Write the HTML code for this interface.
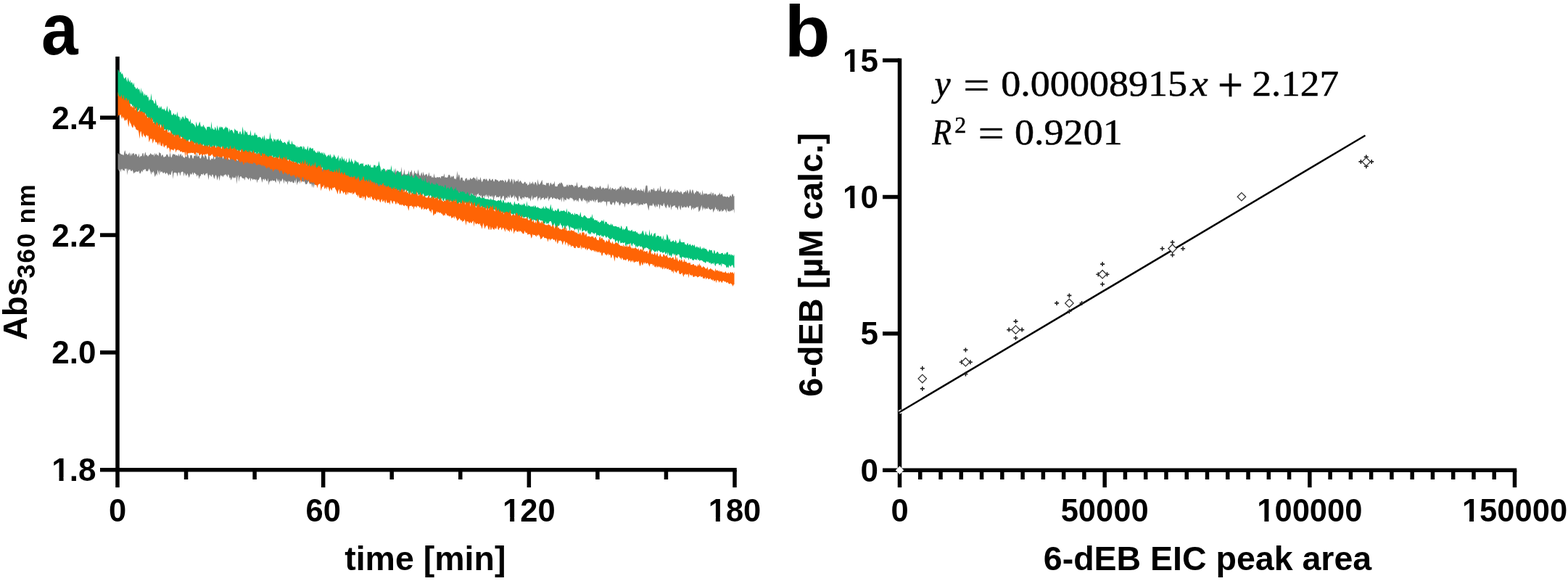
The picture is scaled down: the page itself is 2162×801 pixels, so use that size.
<!DOCTYPE html>
<html><head><meta charset="utf-8"><title>Figure</title>
<style>html,body{margin:0;padding:0;background:#fff;overflow:hidden}svg{display:block}</style>
</head><body>
<svg width="2162" height="801" viewBox="0 0 2162 801"><rect width="100%" height="100%" fill="#fff"/><g stroke-linecap="butt"><line x1="162.00" y1="78.00" x2="162.00" y2="672.00" stroke="#000" stroke-width="5.5"/><line x1="138.00" y1="647.80" x2="1015.75" y2="647.80" stroke="#000" stroke-width="5.5"/><line x1="138.00" y1="162.20" x2="162.00" y2="162.20" stroke="#000" stroke-width="5.5"/><line x1="138.00" y1="324.07" x2="162.00" y2="324.07" stroke="#000" stroke-width="5.5"/><line x1="138.00" y1="485.93" x2="162.00" y2="485.93" stroke="#000" stroke-width="5.5"/><line x1="445.67" y1="647.80" x2="445.67" y2="672.00" stroke="#000" stroke-width="5.5"/><line x1="729.33" y1="647.80" x2="729.33" y2="672.00" stroke="#000" stroke-width="5.5"/><line x1="1013.00" y1="647.80" x2="1013.00" y2="672.00" stroke="#000" stroke-width="5.5"/><line x1="256.56" y1="647.80" x2="256.56" y2="661.00" stroke="#000" stroke-width="5.5"/><line x1="351.11" y1="647.80" x2="351.11" y2="661.00" stroke="#000" stroke-width="5.5"/><line x1="540.22" y1="647.80" x2="540.22" y2="661.00" stroke="#000" stroke-width="5.5"/><line x1="634.78" y1="647.80" x2="634.78" y2="661.00" stroke="#000" stroke-width="5.5"/><line x1="823.89" y1="647.80" x2="823.89" y2="661.00" stroke="#000" stroke-width="5.5"/><line x1="918.44" y1="647.80" x2="918.44" y2="661.00" stroke="#000" stroke-width="5.5"/><line x1="1240.50" y1="80.45" x2="1240.50" y2="672.00" stroke="#000" stroke-width="5.5"/><line x1="1217.00" y1="648.20" x2="2091.25" y2="648.20" stroke="#000" stroke-width="5.5"/><line x1="1217.00" y1="83.20" x2="1240.50" y2="83.20" stroke="#000" stroke-width="5.5"/><line x1="1217.00" y1="271.53" x2="1240.50" y2="271.53" stroke="#000" stroke-width="5.5"/><line x1="1217.00" y1="459.87" x2="1240.50" y2="459.87" stroke="#000" stroke-width="5.5"/><line x1="1268.77" y1="648.20" x2="1268.77" y2="661.00" stroke="#000" stroke-width="5.5"/><line x1="1297.03" y1="648.20" x2="1297.03" y2="661.00" stroke="#000" stroke-width="5.5"/><line x1="1325.30" y1="648.20" x2="1325.30" y2="661.00" stroke="#000" stroke-width="5.5"/><line x1="1353.57" y1="648.20" x2="1353.57" y2="661.00" stroke="#000" stroke-width="5.5"/><line x1="1381.83" y1="648.20" x2="1381.83" y2="661.00" stroke="#000" stroke-width="5.5"/><line x1="1410.10" y1="648.20" x2="1410.10" y2="661.00" stroke="#000" stroke-width="5.5"/><line x1="1438.37" y1="648.20" x2="1438.37" y2="661.00" stroke="#000" stroke-width="5.5"/><line x1="1466.63" y1="648.20" x2="1466.63" y2="661.00" stroke="#000" stroke-width="5.5"/><line x1="1494.90" y1="648.20" x2="1494.90" y2="661.00" stroke="#000" stroke-width="5.5"/><line x1="1523.17" y1="648.20" x2="1523.17" y2="672.00" stroke="#000" stroke-width="5.5"/><line x1="1551.43" y1="648.20" x2="1551.43" y2="661.00" stroke="#000" stroke-width="5.5"/><line x1="1579.70" y1="648.20" x2="1579.70" y2="661.00" stroke="#000" stroke-width="5.5"/><line x1="1607.97" y1="648.20" x2="1607.97" y2="661.00" stroke="#000" stroke-width="5.5"/><line x1="1636.23" y1="648.20" x2="1636.23" y2="661.00" stroke="#000" stroke-width="5.5"/><line x1="1664.50" y1="648.20" x2="1664.50" y2="661.00" stroke="#000" stroke-width="5.5"/><line x1="1692.77" y1="648.20" x2="1692.77" y2="661.00" stroke="#000" stroke-width="5.5"/><line x1="1721.03" y1="648.20" x2="1721.03" y2="661.00" stroke="#000" stroke-width="5.5"/><line x1="1749.30" y1="648.20" x2="1749.30" y2="661.00" stroke="#000" stroke-width="5.5"/><line x1="1777.57" y1="648.20" x2="1777.57" y2="661.00" stroke="#000" stroke-width="5.5"/><line x1="1805.83" y1="648.20" x2="1805.83" y2="672.00" stroke="#000" stroke-width="5.5"/><line x1="1834.10" y1="648.20" x2="1834.10" y2="661.00" stroke="#000" stroke-width="5.5"/><line x1="1862.37" y1="648.20" x2="1862.37" y2="661.00" stroke="#000" stroke-width="5.5"/><line x1="1890.63" y1="648.20" x2="1890.63" y2="661.00" stroke="#000" stroke-width="5.5"/><line x1="1918.90" y1="648.20" x2="1918.90" y2="661.00" stroke="#000" stroke-width="5.5"/><line x1="1947.17" y1="648.20" x2="1947.17" y2="661.00" stroke="#000" stroke-width="5.5"/><line x1="1975.43" y1="648.20" x2="1975.43" y2="661.00" stroke="#000" stroke-width="5.5"/><line x1="2003.70" y1="648.20" x2="2003.70" y2="661.00" stroke="#000" stroke-width="5.5"/><line x1="2031.97" y1="648.20" x2="2031.97" y2="661.00" stroke="#000" stroke-width="5.5"/><line x1="2060.23" y1="648.20" x2="2060.23" y2="661.00" stroke="#000" stroke-width="5.5"/><line x1="2088.50" y1="648.20" x2="2088.50" y2="672.00" stroke="#000" stroke-width="5.5"/></g><g><polygon fill="#808080" points="162.5,210.8 163.5,212.0 164.5,213.5 165.5,210.9 166.5,212.1 167.5,212.9 168.5,212.9 169.5,213.6 170.5,214.3 171.5,209.2 172.5,207.0 173.5,212.8 174.5,211.5 175.5,213.5 176.5,213.6 177.5,211.7 178.5,210.1 179.5,215.8 180.5,210.4 181.5,215.0 182.5,211.8 183.5,211.5 184.5,211.1 185.5,214.5 186.5,211.9 187.5,212.4 188.5,212.6 189.5,216.0 190.5,215.4 191.5,211.3 192.5,217.5 193.5,215.6 194.5,214.9 195.5,215.5 196.5,211.2 197.5,211.1 198.5,216.3 199.5,211.9 200.5,209.2 201.5,214.6 202.5,213.2 203.5,215.4 204.5,215.6 205.5,213.3 206.5,213.7 207.5,211.0 208.5,212.2 209.5,213.4 210.5,213.5 211.5,212.6 212.5,215.9 213.5,210.5 214.5,214.3 215.5,211.2 216.5,213.7 217.5,213.5 218.5,215.5 219.5,209.6 220.5,210.9 221.5,210.9 222.5,215.9 223.5,213.4 224.5,213.3 225.5,216.5 226.5,216.7 227.5,215.7 228.5,215.7 229.5,212.9 230.5,212.6 231.5,214.0 232.5,216.5 233.5,216.2 234.5,209.6 235.5,215.9 236.5,217.4 237.5,213.9 238.5,212.3 239.5,212.6 240.5,213.0 241.5,212.7 242.5,215.0 243.5,213.5 244.5,214.6 245.5,215.4 246.5,211.4 247.5,216.0 248.5,212.9 249.5,211.8 250.5,216.0 251.5,213.6 252.5,216.6 253.5,217.0 254.5,217.9 255.5,215.6 256.5,215.7 257.5,216.7 258.5,211.7 259.5,214.0 260.5,218.1 261.5,218.4 262.5,213.5 263.5,213.9 264.5,213.4 265.5,218.3 266.5,218.8 267.5,214.4 268.5,215.1 269.5,213.2 270.5,216.3 271.5,209.4 272.5,216.3 273.5,215.4 274.5,213.8 275.5,218.0 276.5,218.7 277.5,216.7 278.5,212.0 279.5,214.8 280.5,215.6 281.5,218.2 282.5,213.3 283.5,214.3 284.5,215.8 285.5,219.4 286.5,219.9 287.5,214.5 288.5,213.5 289.5,220.4 290.5,220.8 291.5,218.5 292.5,218.7 293.5,219.5 294.5,212.5 295.5,219.7 296.5,219.3 297.5,216.7 298.5,213.2 299.5,211.0 300.5,216.9 301.5,216.4 302.5,215.3 303.5,215.4 304.5,216.4 305.5,210.3 306.5,215.6 307.5,219.5 308.5,215.7 309.5,209.6 310.5,214.8 311.5,212.3 312.5,216.9 313.5,220.0 314.5,217.8 315.5,219.6 316.5,220.5 317.5,217.5 318.5,214.3 319.5,216.7 320.5,218.0 321.5,218.9 322.5,218.2 323.5,217.6 324.5,218.3 325.5,216.3 326.5,220.8 327.5,222.0 328.5,217.8 329.5,220.5 330.5,218.9 331.5,217.1 332.5,218.1 333.5,221.7 334.5,220.4 335.5,222.0 336.5,217.9 337.5,222.4 338.5,223.9 339.5,219.8 340.5,220.0 341.5,220.7 342.5,219.7 343.5,221.2 344.5,221.5 345.5,219.9 346.5,219.9 347.5,221.7 348.5,221.4 349.5,223.1 350.5,219.7 351.5,223.5 352.5,223.7 353.5,222.5 354.5,221.2 355.5,226.6 356.5,218.8 357.5,224.7 358.5,225.3 359.5,220.6 360.5,221.2 361.5,220.7 362.5,221.5 363.5,224.5 364.5,220.8 365.5,219.1 366.5,224.5 367.5,222.8 368.5,221.5 369.5,220.6 370.5,224.2 371.5,222.2 372.5,220.4 373.5,222.7 374.5,222.7 375.5,223.5 376.5,224.5 377.5,225.2 378.5,225.0 379.5,222.3 380.5,222.4 381.5,222.8 382.5,219.5 383.5,222.6 384.5,224.0 385.5,224.5 386.5,222.4 387.5,221.7 388.5,224.2 389.5,223.7 390.5,227.3 391.5,219.6 392.5,224.2 393.5,220.8 394.5,226.9 395.5,226.0 396.5,226.8 397.5,225.7 398.5,224.9 399.5,226.0 400.5,227.0 401.5,229.1 402.5,223.9 403.5,227.4 404.5,224.2 405.5,225.8 406.5,225.0 407.5,222.2 408.5,225.9 409.5,226.9 410.5,227.9 411.5,227.5 412.5,227.8 413.5,230.1 414.5,230.2 415.5,224.6 416.5,228.5 417.5,229.8 418.5,226.7 419.5,229.2 420.5,230.9 421.5,225.9 422.5,228.2 423.5,228.1 424.5,230.4 425.5,226.3 426.5,229.0 427.5,228.0 428.5,227.7 429.5,228.2 430.5,227.5 431.5,224.4 432.5,226.1 433.5,227.3 434.5,232.1 435.5,230.6 436.5,221.7 437.5,231.4 438.5,232.0 439.5,227.4 440.5,231.7 441.5,227.5 442.5,229.6 443.5,223.2 444.5,234.1 445.5,231.1 446.5,229.7 447.5,230.6 448.5,232.7 449.5,231.0 450.5,228.4 451.5,228.7 452.5,229.7 453.5,231.2 454.5,230.1 455.5,229.3 456.5,229.7 457.5,232.4 458.5,228.7 459.5,228.2 460.5,228.6 461.5,232.6 462.5,229.0 463.5,230.3 464.5,232.1 465.5,231.9 466.5,231.8 467.5,232.6 468.5,228.0 469.5,226.9 470.5,231.8 471.5,231.2 472.5,231.8 473.5,231.5 474.5,233.5 475.5,230.8 476.5,231.5 477.5,232.2 478.5,231.6 479.5,231.4 480.5,233.1 481.5,231.0 482.5,233.2 483.5,236.0 484.5,233.5 485.5,232.4 486.5,233.9 487.5,230.2 488.5,234.9 489.5,232.1 490.5,232.7 491.5,236.8 492.5,230.9 493.5,230.1 494.5,232.0 495.5,233.3 496.5,230.3 497.5,235.4 498.5,232.9 499.5,231.8 500.5,232.6 501.5,234.5 502.5,233.3 503.5,238.5 504.5,238.2 505.5,236.6 506.5,234.0 507.5,236.1 508.5,233.9 509.5,233.1 510.5,232.6 511.5,233.1 512.5,236.1 513.5,234.6 514.5,236.4 515.5,234.2 516.5,233.3 517.5,236.7 518.5,234.5 519.5,238.3 520.5,235.0 521.5,235.2 522.5,238.3 523.5,234.8 524.5,237.3 525.5,237.9 526.5,237.7 527.5,234.8 528.5,237.4 529.5,235.7 530.5,239.0 531.5,235.8 532.5,233.5 533.5,237.6 534.5,237.0 535.5,236.2 536.5,238.0 537.5,236.4 538.5,238.4 539.5,239.0 540.5,239.5 541.5,240.7 542.5,237.1 543.5,240.4 544.5,238.2 545.5,231.6 546.5,237.7 547.5,235.4 548.5,235.6 549.5,236.3 550.5,237.5 551.5,240.3 552.5,240.8 553.5,229.7 554.5,240.4 555.5,241.0 556.5,239.3 557.5,232.9 558.5,241.1 559.5,240.6 560.5,240.4 561.5,239.7 562.5,239.8 563.5,234.4 564.5,241.9 565.5,237.1 566.5,237.3 567.5,233.9 568.5,239.5 569.5,242.8 570.5,239.4 571.5,234.6 572.5,239.6 573.5,238.1 574.5,240.5 575.5,239.0 576.5,233.3 577.5,239.0 578.5,241.7 579.5,242.8 580.5,239.4 581.5,237.2 582.5,242.9 583.5,236.4 584.5,240.6 585.5,242.4 586.5,240.5 587.5,240.4 588.5,239.4 589.5,243.7 590.5,241.6 591.5,237.2 592.5,242.9 593.5,242.4 594.5,242.2 595.5,245.0 596.5,244.1 597.5,245.2 598.5,239.1 599.5,244.6 600.5,244.7 601.5,245.6 602.5,243.8 603.5,244.5 604.5,244.6 605.5,244.2 606.5,244.1 607.5,246.3 608.5,242.6 609.5,243.3 610.5,242.6 611.5,243.6 612.5,239.1 613.5,245.1 614.5,244.3 615.5,244.7 616.5,244.9 617.5,243.7 618.5,241.1 619.5,240.7 620.5,242.1 621.5,245.6 622.5,242.2 623.5,244.4 624.5,242.5 625.5,242.4 626.5,246.9 627.5,245.9 628.5,247.4 629.5,243.9 630.5,235.6 631.5,245.1 632.5,240.0 633.5,241.9 634.5,249.0 635.5,244.4 636.5,245.0 637.5,244.5 638.5,249.6 639.5,248.3 640.5,250.4 641.5,246.4 642.5,246.1 643.5,244.9 644.5,249.3 645.5,246.8 646.5,248.7 647.5,247.7 648.5,244.7 649.5,246.7 650.5,246.9 651.5,246.2 652.5,244.7 653.5,244.5 654.5,245.9 655.5,246.0 656.5,249.2 657.5,242.6 658.5,250.1 659.5,246.2 660.5,248.2 661.5,247.8 662.5,244.1 663.5,248.6 664.5,251.3 665.5,249.4 666.5,246.5 667.5,247.1 668.5,246.3 669.5,248.4 670.5,246.1 671.5,247.4 672.5,249.8 673.5,249.5 674.5,246.4 675.5,246.2 676.5,248.5 677.5,249.1 678.5,246.9 679.5,246.5 680.5,249.7 681.5,250.6 682.5,246.9 683.5,247.3 684.5,247.7 685.5,248.8 686.5,248.2 687.5,250.6 688.5,250.0 689.5,248.5 690.5,248.3 691.5,249.3 692.5,247.8 693.5,248.9 694.5,249.0 695.5,251.8 696.5,247.5 697.5,248.9 698.5,251.8 699.5,250.4 700.5,248.5 701.5,246.0 702.5,247.4 703.5,251.9 704.5,248.9 705.5,246.2 706.5,247.9 707.5,254.4 708.5,246.6 709.5,248.5 710.5,251.5 711.5,249.3 712.5,249.7 713.5,250.1 714.5,246.4 715.5,251.8 716.5,249.9 717.5,248.7 718.5,250.2 719.5,251.9 720.5,252.9 721.5,253.5 722.5,251.9 723.5,250.5 724.5,250.9 725.5,253.8 726.5,252.4 727.5,255.9 728.5,254.4 729.5,254.6 730.5,250.1 731.5,254.4 732.5,251.9 733.5,253.5 734.5,250.0 735.5,253.1 736.5,254.7 737.5,251.5 738.5,250.7 739.5,253.1 740.5,256.3 741.5,246.8 742.5,253.0 743.5,254.7 744.5,253.6 745.5,252.1 746.5,250.0 747.5,247.8 748.5,254.9 749.5,253.9 750.5,255.0 751.5,254.7 752.5,256.0 753.5,251.4 754.5,253.0 755.5,252.1 756.5,252.1 757.5,257.3 758.5,253.0 759.5,251.5 760.5,253.9 761.5,255.0 762.5,252.9 763.5,254.1 764.5,249.4 765.5,257.3 766.5,256.7 767.5,257.2 768.5,256.9 769.5,253.8 770.5,254.1 771.5,251.8 772.5,253.7 773.5,251.2 774.5,251.9 775.5,253.3 776.5,255.9 777.5,257.7 778.5,257.4 779.5,256.9 780.5,257.6 781.5,254.8 782.5,254.6 783.5,257.6 784.5,254.2 785.5,255.2 786.5,255.4 787.5,254.5 788.5,255.1 789.5,255.1 790.5,255.9 791.5,258.5 792.5,255.6 793.5,256.5 794.5,256.1 795.5,250.5 796.5,256.6 797.5,258.9 798.5,257.4 799.5,258.3 800.5,256.5 801.5,254.8 802.5,255.6 803.5,259.2 804.5,258.3 805.5,259.6 806.5,258.0 807.5,260.4 808.5,257.6 809.5,261.0 810.5,257.1 811.5,258.1 812.5,255.6 813.5,256.9 814.5,256.9 815.5,258.0 816.5,257.1 817.5,258.7 818.5,260.1 819.5,260.8 820.5,260.6 821.5,256.6 822.5,260.1 823.5,258.1 824.5,258.7 825.5,259.2 826.5,258.2 827.5,255.7 828.5,257.9 829.5,261.2 830.5,259.1 831.5,258.6 832.5,258.9 833.5,260.9 834.5,258.8 835.5,260.3 836.5,258.8 837.5,260.2 838.5,252.6 839.5,261.2 840.5,260.7 841.5,257.4 842.5,262.5 843.5,259.4 844.5,259.0 845.5,260.3 846.5,261.1 847.5,261.2 848.5,258.9 849.5,262.9 850.5,260.7 851.5,261.4 852.5,259.3 853.5,261.1 854.5,257.2 855.5,257.7 856.5,255.4 857.5,262.5 858.5,258.1 859.5,258.5 860.5,262.6 861.5,256.3 862.5,258.2 863.5,258.8 864.5,260.1 865.5,258.3 866.5,259.0 867.5,260.2 868.5,261.7 869.5,261.1 870.5,258.2 871.5,262.7 872.5,261.4 873.5,262.8 874.5,259.2 875.5,261.8 876.5,258.1 877.5,259.6 878.5,263.5 879.5,261.7 880.5,262.0 881.5,262.2 882.5,263.5 883.5,260.0 884.5,262.7 885.5,262.8 886.5,263.9 887.5,259.5 888.5,266.3 889.5,261.1 890.5,255.9 891.5,255.4 892.5,256.0 893.5,266.2 894.5,263.4 895.5,261.6 896.5,266.0 897.5,260.7 898.5,261.3 899.5,260.8 900.5,262.6 901.5,258.6 902.5,262.2 903.5,263.8 904.5,262.9 905.5,263.5 906.5,261.3 907.5,258.7 908.5,263.5 909.5,261.9 910.5,255.7 911.5,262.0 912.5,264.1 913.5,264.2 914.5,264.0 915.5,263.4 916.5,260.8 917.5,259.7 918.5,265.9 919.5,265.2 920.5,263.3 921.5,261.5 922.5,259.7 923.5,265.5 924.5,263.4 925.5,262.1 926.5,265.9 927.5,265.7 928.5,262.9 929.5,265.2 930.5,260.3 931.5,265.0 932.5,264.4 933.5,261.8 934.5,263.7 935.5,264.8 936.5,264.4 937.5,266.2 938.5,263.4 939.5,264.3 940.5,266.8 941.5,268.0 942.5,265.2 943.5,265.1 944.5,264.7 945.5,262.4 946.5,265.9 947.5,261.6 948.5,263.0 949.5,267.4 950.5,264.1 951.5,260.5 952.5,263.2 953.5,267.0 954.5,261.6 955.5,261.8 956.5,265.7 957.5,268.0 958.5,265.2 959.5,265.3 960.5,262.4 961.5,264.3 962.5,263.5 963.5,264.8 964.5,267.5 965.5,264.3 966.5,268.9 967.5,268.4 968.5,261.8 969.5,269.5 970.5,265.9 971.5,268.1 972.5,266.3 973.5,267.6 974.5,266.3 975.5,268.8 976.5,267.8 977.5,267.7 978.5,267.0 979.5,268.1 980.5,264.0 981.5,269.9 982.5,265.8 983.5,265.8 984.5,269.8 985.5,267.3 986.5,267.6 987.5,269.0 988.5,270.7 989.5,268.8 990.5,268.4 991.5,267.9 992.5,265.2 993.5,268.9 994.5,267.9 995.5,266.8 996.5,269.8 997.5,271.5 998.5,270.2 999.5,271.2 1000.5,270.8 1001.5,272.0 1002.5,270.7 1003.5,270.9 1004.5,272.2 1005.5,272.0 1006.5,269.8 1007.5,269.2 1008.5,271.7 1009.5,267.7 1010.5,267.3 1011.5,271.1 1012.5,269.4 1012.5,294.4 1011.5,289.1 1010.5,288.5 1009.5,291.1 1008.5,289.5 1007.5,291.7 1006.5,290.2 1005.5,292.3 1004.5,290.7 1003.5,291.6 1002.5,287.3 1001.5,293.6 1000.5,290.2 999.5,288.7 998.5,288.5 997.5,290.7 996.5,290.5 995.5,292.2 994.5,288.6 993.5,291.4 992.5,291.2 991.5,292.1 990.5,288.2 989.5,291.7 988.5,287.7 987.5,289.3 986.5,285.1 985.5,289.1 984.5,290.3 983.5,293.3 982.5,287.6 981.5,288.4 980.5,288.6 979.5,289.8 978.5,288.2 977.5,288.0 976.5,284.9 975.5,287.9 974.5,287.9 973.5,286.7 972.5,289.2 971.5,285.8 970.5,288.9 969.5,284.8 968.5,290.9 967.5,282.8 966.5,285.6 965.5,289.2 964.5,290.7 963.5,292.5 962.5,284.2 961.5,285.9 960.5,285.2 959.5,285.9 958.5,287.5 957.5,286.3 956.5,289.5 955.5,285.4 954.5,287.4 953.5,290.2 952.5,283.7 951.5,283.6 950.5,284.1 949.5,287.2 948.5,285.8 947.5,283.6 946.5,286.4 945.5,285.3 944.5,286.5 943.5,284.1 942.5,286.0 941.5,286.1 940.5,286.8 939.5,283.1 938.5,289.9 937.5,287.7 936.5,283.3 935.5,284.7 934.5,290.1 933.5,286.9 932.5,285.8 931.5,286.4 930.5,283.1 929.5,283.5 928.5,283.7 927.5,284.8 926.5,285.1 925.5,290.0 924.5,281.5 923.5,286.3 922.5,286.4 921.5,284.5 920.5,281.5 919.5,283.9 918.5,287.4 917.5,285.4 916.5,283.8 915.5,279.5 914.5,282.5 913.5,284.2 912.5,283.9 911.5,282.7 910.5,281.8 909.5,289.1 908.5,282.2 907.5,281.1 906.5,285.0 905.5,285.2 904.5,281.5 903.5,286.4 902.5,283.9 901.5,282.6 900.5,280.1 899.5,283.2 898.5,284.2 897.5,282.5 896.5,284.2 895.5,282.5 894.5,290.6 893.5,286.7 892.5,282.5 891.5,280.2 890.5,280.0 889.5,281.3 888.5,281.7 887.5,279.7 886.5,283.0 885.5,282.1 884.5,282.0 883.5,281.3 882.5,283.1 881.5,281.9 880.5,284.8 879.5,278.6 878.5,284.4 877.5,279.7 876.5,281.0 875.5,280.1 874.5,281.0 873.5,280.5 872.5,282.7 871.5,281.9 870.5,283.9 869.5,278.2 868.5,279.0 867.5,280.7 866.5,281.7 865.5,281.4 864.5,279.5 863.5,280.4 862.5,280.3 861.5,286.4 860.5,280.3 859.5,281.2 858.5,280.5 857.5,278.9 856.5,279.6 855.5,281.5 854.5,283.7 853.5,281.7 852.5,278.0 851.5,280.1 850.5,278.0 849.5,277.0 848.5,279.5 847.5,283.4 846.5,279.7 845.5,278.4 844.5,279.7 843.5,282.6 842.5,281.9 841.5,281.4 840.5,277.5 839.5,277.7 838.5,278.0 837.5,277.5 836.5,285.2 835.5,278.6 834.5,277.7 833.5,278.8 832.5,276.5 831.5,277.9 830.5,277.6 829.5,278.3 828.5,280.3 827.5,277.8 826.5,279.0 825.5,279.6 824.5,278.9 823.5,274.2 822.5,276.2 821.5,276.0 820.5,279.8 819.5,274.4 818.5,278.5 817.5,276.7 816.5,275.1 815.5,277.6 814.5,276.9 813.5,275.4 812.5,278.6 811.5,279.8 810.5,275.4 809.5,281.8 808.5,275.9 807.5,277.8 806.5,274.9 805.5,276.7 804.5,273.0 803.5,275.5 802.5,278.0 801.5,276.8 800.5,275.1 799.5,273.1 798.5,273.2 797.5,279.0 796.5,275.5 795.5,277.9 794.5,275.1 793.5,276.1 792.5,275.5 791.5,278.1 790.5,275.0 789.5,274.6 788.5,272.6 787.5,273.8 786.5,272.3 785.5,273.2 784.5,275.8 783.5,273.7 782.5,274.7 781.5,272.3 780.5,276.3 779.5,276.0 778.5,274.1 777.5,278.9 776.5,272.7 775.5,271.7 774.5,279.1 773.5,272.6 772.5,275.8 771.5,275.7 770.5,274.8 769.5,274.7 768.5,272.7 767.5,275.2 766.5,273.8 765.5,274.0 764.5,272.9 763.5,272.3 762.5,274.1 761.5,274.6 760.5,271.7 759.5,271.8 758.5,273.4 757.5,274.3 756.5,277.6 755.5,269.9 754.5,273.6 753.5,273.8 752.5,272.5 751.5,274.5 750.5,275.7 749.5,271.8 748.5,273.3 747.5,272.7 746.5,274.5 745.5,276.5 744.5,270.8 743.5,273.8 742.5,272.7 741.5,278.0 740.5,270.0 739.5,271.2 738.5,272.0 737.5,272.8 736.5,271.4 735.5,273.9 734.5,276.1 733.5,269.0 732.5,273.6 731.5,277.7 730.5,272.4 729.5,274.2 728.5,272.7 727.5,271.6 726.5,272.6 725.5,272.3 724.5,271.5 723.5,271.0 722.5,274.2 721.5,271.9 720.5,271.9 719.5,276.3 718.5,273.0 717.5,274.4 716.5,270.6 715.5,270.0 714.5,277.5 713.5,276.8 712.5,272.8 711.5,272.3 710.5,269.8 709.5,274.9 708.5,268.3 707.5,271.2 706.5,271.3 705.5,273.3 704.5,272.1 703.5,268.0 702.5,272.8 701.5,272.5 700.5,269.7 699.5,274.0 698.5,272.0 697.5,272.7 696.5,276.5 695.5,276.3 694.5,270.0 693.5,270.1 692.5,272.1 691.5,274.0 690.5,275.9 689.5,269.8 688.5,270.9 687.5,272.2 686.5,271.4 685.5,271.6 684.5,272.6 683.5,268.7 682.5,269.8 681.5,271.7 680.5,278.4 679.5,268.9 678.5,272.5 677.5,269.5 676.5,271.3 675.5,270.9 674.5,268.5 673.5,274.7 672.5,268.4 671.5,272.2 670.5,268.0 669.5,269.2 668.5,272.5 667.5,269.3 666.5,270.6 665.5,274.3 664.5,274.8 663.5,268.4 662.5,271.2 661.5,268.8 660.5,270.0 659.5,266.3 658.5,268.0 657.5,268.3 656.5,273.4 655.5,268.0 654.5,273.2 653.5,268.5 652.5,271.9 651.5,266.1 650.5,269.9 649.5,266.0 648.5,268.8 647.5,274.7 646.5,272.1 645.5,267.4 644.5,269.1 643.5,268.6 642.5,269.6 641.5,267.3 640.5,266.1 639.5,269.9 638.5,269.2 637.5,274.7 636.5,266.2 635.5,269.4 634.5,279.5 633.5,264.7 632.5,270.1 631.5,271.5 630.5,269.7 629.5,267.7 628.5,266.9 627.5,271.9 626.5,270.2 625.5,269.9 624.5,269.5 623.5,269.6 622.5,269.6 621.5,267.2 620.5,269.9 619.5,267.2 618.5,264.1 617.5,268.1 616.5,266.0 615.5,265.4 614.5,267.0 613.5,266.4 612.5,269.1 611.5,263.7 610.5,268.3 609.5,271.5 608.5,271.2 607.5,262.7 606.5,266.2 605.5,267.7 604.5,267.9 603.5,265.7 602.5,270.1 601.5,264.7 600.5,267.2 599.5,269.9 598.5,268.8 597.5,268.7 596.5,265.9 595.5,266.6 594.5,270.0 593.5,262.2 592.5,270.7 591.5,265.6 590.5,265.1 589.5,264.5 588.5,262.6 587.5,263.9 586.5,269.6 585.5,267.8 584.5,266.4 583.5,263.4 582.5,263.0 581.5,266.1 580.5,266.1 579.5,270.4 578.5,264.9 577.5,265.6 576.5,270.2 575.5,260.8 574.5,261.0 573.5,263.5 572.5,262.1 571.5,263.5 570.5,261.4 569.5,262.8 568.5,263.1 567.5,265.7 566.5,261.2 565.5,265.9 564.5,267.1 563.5,262.5 562.5,262.6 561.5,262.9 560.5,263.1 559.5,260.4 558.5,261.9 557.5,264.2 556.5,264.3 555.5,261.3 554.5,264.3 553.5,265.8 552.5,265.4 551.5,270.5 550.5,262.3 549.5,262.8 548.5,262.4 547.5,264.2 546.5,261.5 545.5,268.9 544.5,258.8 543.5,260.1 542.5,263.7 541.5,262.4 540.5,260.7 539.5,261.7 538.5,265.6 537.5,258.7 536.5,259.1 535.5,260.7 534.5,265.4 533.5,260.0 532.5,259.1 531.5,266.3 530.5,258.5 529.5,264.1 528.5,261.3 527.5,262.4 526.5,257.7 525.5,259.3 524.5,260.3 523.5,258.5 522.5,260.4 521.5,260.1 520.5,259.2 519.5,257.1 518.5,259.6 517.5,260.9 516.5,259.6 515.5,257.5 514.5,264.9 513.5,261.9 512.5,256.9 511.5,255.6 510.5,261.1 509.5,264.1 508.5,256.0 507.5,259.7 506.5,260.3 505.5,257.5 504.5,259.6 503.5,257.8 502.5,262.0 501.5,258.8 500.5,255.2 499.5,258.2 498.5,259.1 497.5,260.8 496.5,256.6 495.5,257.1 494.5,258.1 493.5,257.7 492.5,257.3 491.5,256.9 490.5,258.5 489.5,261.7 488.5,258.8 487.5,254.4 486.5,264.3 485.5,256.9 484.5,256.8 483.5,255.0 482.5,257.7 481.5,260.0 480.5,259.8 479.5,258.0 478.5,253.1 477.5,255.5 476.5,252.7 475.5,257.1 474.5,256.7 473.5,256.3 472.5,259.7 471.5,253.8 470.5,257.5 469.5,253.9 468.5,260.1 467.5,254.2 466.5,257.5 465.5,255.9 464.5,257.2 463.5,255.8 462.5,254.2 461.5,255.6 460.5,254.7 459.5,251.4 458.5,256.5 457.5,254.5 456.5,254.2 455.5,254.6 454.5,253.2 453.5,251.4 452.5,258.5 451.5,252.1 450.5,256.5 449.5,255.6 448.5,253.5 447.5,249.8 446.5,255.8 445.5,252.6 444.5,253.1 443.5,254.7 442.5,253.4 441.5,253.2 440.5,253.4 439.5,251.8 438.5,251.1 437.5,252.5 436.5,249.5 435.5,255.4 434.5,253.1 433.5,254.3 432.5,259.5 431.5,252.7 430.5,259.1 429.5,253.7 428.5,252.9 427.5,254.2 426.5,252.3 425.5,249.6 424.5,251.0 423.5,253.3 422.5,254.1 421.5,254.2 420.5,252.1 419.5,248.9 418.5,251.2 417.5,249.8 416.5,250.7 415.5,248.3 414.5,247.7 413.5,253.6 412.5,248.8 411.5,251.1 410.5,251.7 409.5,255.4 408.5,245.7 407.5,253.3 406.5,247.7 405.5,251.9 404.5,252.5 403.5,251.6 402.5,249.6 401.5,251.3 400.5,251.2 399.5,249.2 398.5,251.0 397.5,248.8 396.5,254.9 395.5,249.4 394.5,251.1 393.5,250.1 392.5,247.7 391.5,253.5 390.5,248.2 389.5,246.1 388.5,249.0 387.5,250.6 386.5,248.2 385.5,254.7 384.5,246.7 383.5,251.0 382.5,248.2 381.5,245.5 380.5,252.2 379.5,250.3 378.5,248.7 377.5,249.1 376.5,249.8 375.5,247.8 374.5,250.3 373.5,248.4 372.5,250.3 371.5,250.2 370.5,255.5 369.5,245.5 368.5,250.2 367.5,249.5 366.5,247.5 365.5,245.9 364.5,248.9 363.5,246.5 362.5,246.9 361.5,251.9 360.5,247.7 359.5,244.3 358.5,243.9 357.5,246.0 356.5,248.2 355.5,247.8 354.5,252.4 353.5,246.4 352.5,248.7 351.5,246.7 350.5,247.7 349.5,246.5 348.5,248.5 347.5,246.3 346.5,245.5 345.5,250.4 344.5,244.7 343.5,245.9 342.5,248.1 341.5,246.0 340.5,245.2 339.5,244.2 338.5,244.2 337.5,249.1 336.5,245.2 335.5,246.6 334.5,245.6 333.5,245.0 332.5,242.9 331.5,243.2 330.5,244.3 329.5,251.0 328.5,241.0 327.5,244.6 326.5,254.1 325.5,241.7 324.5,245.3 323.5,245.7 322.5,243.9 321.5,246.3 320.5,243.3 319.5,246.3 318.5,248.8 317.5,244.4 316.5,246.0 315.5,241.3 314.5,240.3 313.5,244.4 312.5,242.1 311.5,240.6 310.5,240.6 309.5,241.5 308.5,241.7 307.5,244.6 306.5,241.9 305.5,242.9 304.5,241.1 303.5,243.2 302.5,249.7 301.5,242.0 300.5,245.1 299.5,248.8 298.5,243.2 297.5,240.8 296.5,243.3 295.5,246.9 294.5,244.0 293.5,240.8 292.5,240.6 291.5,243.9 290.5,242.6 289.5,240.8 288.5,241.6 287.5,248.3 286.5,241.5 285.5,238.2 284.5,239.4 283.5,239.4 282.5,242.0 281.5,241.4 280.5,238.6 279.5,241.2 278.5,240.1 277.5,240.1 276.5,242.8 275.5,243.2 274.5,247.1 273.5,241.8 272.5,240.7 271.5,243.8 270.5,240.2 269.5,239.7 268.5,238.0 267.5,238.5 266.5,241.8 265.5,237.3 264.5,240.1 263.5,240.9 262.5,238.8 261.5,242.8 260.5,245.2 259.5,241.8 258.5,238.7 257.5,241.3 256.5,242.8 255.5,240.0 254.5,237.7 253.5,243.5 252.5,237.0 251.5,236.4 250.5,236.9 249.5,237.7 248.5,242.7 247.5,238.6 246.5,237.3 245.5,238.6 244.5,243.8 243.5,238.0 242.5,238.8 241.5,237.5 240.5,238.1 239.5,238.7 238.5,247.1 237.5,235.0 236.5,237.0 235.5,241.1 234.5,241.2 233.5,239.3 232.5,242.6 231.5,240.2 230.5,238.5 229.5,238.0 228.5,240.2 227.5,238.8 226.5,237.1 225.5,239.0 224.5,238.5 223.5,236.5 222.5,236.4 221.5,238.2 220.5,234.5 219.5,241.8 218.5,237.1 217.5,234.1 216.5,242.6 215.5,239.0 214.5,242.1 213.5,244.1 212.5,238.4 211.5,235.6 210.5,238.6 209.5,236.6 208.5,241.0 207.5,236.7 206.5,234.5 205.5,232.2 204.5,234.8 203.5,236.5 202.5,235.6 201.5,236.5 200.5,233.1 199.5,233.0 198.5,234.9 197.5,233.6 196.5,237.8 195.5,235.0 194.5,237.2 193.5,239.5 192.5,239.0 191.5,234.9 190.5,237.1 189.5,236.8 188.5,236.4 187.5,236.4 186.5,237.6 185.5,237.8 184.5,239.4 183.5,236.8 182.5,234.0 181.5,235.9 180.5,235.9 179.5,233.7 178.5,233.3 177.5,235.8 176.5,232.6 175.5,241.4 174.5,232.1 173.5,233.2 172.5,232.1 171.5,236.3 170.5,234.2 169.5,235.4 168.5,232.7 167.5,233.3 166.5,237.7 165.5,232.7 164.5,236.6 163.5,235.0 162.5,233.0"/><polygon fill="#03c177" points="162.5,95.7 163.5,96.8 164.5,100.2 165.5,99.9 166.5,97.9 167.5,102.8 168.5,100.8 169.5,103.0 170.5,106.8 171.5,108.7 172.5,107.5 173.5,105.7 174.5,109.9 175.5,113.2 176.5,106.2 177.5,110.8 178.5,113.7 179.5,109.8 180.5,115.0 181.5,112.9 182.5,114.2 183.5,117.7 184.5,113.4 185.5,120.0 186.5,120.2 187.5,122.7 188.5,122.2 189.5,120.3 190.5,124.0 191.5,122.1 192.5,123.9 193.5,129.5 194.5,120.8 195.5,129.8 196.5,124.7 197.5,128.5 198.5,132.7 199.5,128.4 200.5,131.4 201.5,131.8 202.5,130.2 203.5,134.3 204.5,133.1 205.5,139.5 206.5,136.8 207.5,138.3 208.5,128.4 209.5,138.3 210.5,138.1 211.5,139.3 212.5,142.6 213.5,142.9 214.5,136.3 215.5,142.6 216.5,146.2 217.5,144.3 218.5,148.5 219.5,149.5 220.5,146.1 221.5,149.5 222.5,145.8 223.5,151.6 224.5,149.5 225.5,151.8 226.5,149.3 227.5,151.7 228.5,153.5 229.5,150.7 230.5,145.5 231.5,153.0 232.5,155.0 233.5,149.1 234.5,152.5 235.5,151.8 236.5,157.9 237.5,159.0 238.5,157.7 239.5,155.7 240.5,158.2 241.5,158.7 242.5,156.5 243.5,161.3 244.5,153.6 245.5,160.1 246.5,161.0 247.5,160.7 248.5,166.9 249.5,161.0 250.5,165.3 251.5,160.9 252.5,160.6 253.5,163.1 254.5,164.8 255.5,158.4 256.5,163.0 257.5,162.3 258.5,163.4 259.5,163.6 260.5,167.1 261.5,168.3 262.5,163.6 263.5,171.3 264.5,169.0 265.5,169.9 266.5,171.1 267.5,171.5 268.5,173.0 269.5,176.0 270.5,167.4 271.5,171.8 272.5,174.2 273.5,172.8 274.5,170.1 275.5,167.5 276.5,173.0 277.5,175.6 278.5,173.2 279.5,175.6 280.5,171.5 281.5,174.6 282.5,175.9 283.5,177.0 284.5,180.0 285.5,174.6 286.5,175.0 287.5,174.7 288.5,174.6 289.5,175.2 290.5,178.4 291.5,167.2 292.5,178.7 293.5,176.3 294.5,179.0 295.5,179.0 296.5,174.4 297.5,177.0 298.5,180.6 299.5,172.4 300.5,176.9 301.5,180.6 302.5,173.9 303.5,176.8 304.5,173.9 305.5,176.1 306.5,174.8 307.5,177.2 308.5,179.0 309.5,176.4 310.5,176.6 311.5,174.0 312.5,176.5 313.5,175.7 314.5,177.5 315.5,182.7 316.5,176.8 317.5,180.7 318.5,179.1 319.5,179.1 320.5,180.1 321.5,182.2 322.5,184.4 323.5,177.1 324.5,179.0 325.5,179.8 326.5,180.7 327.5,179.9 328.5,183.9 329.5,184.9 330.5,181.6 331.5,180.9 332.5,185.6 333.5,184.4 334.5,174.2 335.5,180.3 336.5,186.7 337.5,179.1 338.5,180.9 339.5,183.1 340.5,181.2 341.5,185.3 342.5,186.4 343.5,185.5 344.5,186.4 345.5,179.1 346.5,186.7 347.5,187.5 348.5,185.4 349.5,187.7 350.5,185.8 351.5,182.0 352.5,186.4 353.5,185.5 354.5,186.6 355.5,189.9 356.5,188.8 357.5,188.5 358.5,189.4 359.5,189.2 360.5,192.1 361.5,190.5 362.5,187.5 363.5,192.4 364.5,185.7 365.5,191.2 366.5,194.0 367.5,190.1 368.5,192.6 369.5,190.9 370.5,192.3 371.5,190.7 372.5,182.3 373.5,191.4 374.5,190.7 375.5,193.5 376.5,195.9 377.5,190.2 378.5,193.3 379.5,191.3 380.5,195.4 381.5,191.7 382.5,193.3 383.5,190.7 384.5,194.1 385.5,194.5 386.5,190.9 387.5,194.3 388.5,194.6 389.5,196.7 390.5,197.1 391.5,196.5 392.5,195.6 393.5,197.0 394.5,198.0 395.5,199.9 396.5,194.6 397.5,196.4 398.5,191.9 399.5,198.0 400.5,198.8 401.5,199.1 402.5,193.8 403.5,198.6 404.5,199.1 405.5,198.9 406.5,200.0 407.5,200.5 408.5,203.7 409.5,200.5 410.5,203.9 411.5,201.9 412.5,203.4 413.5,202.3 414.5,201.6 415.5,202.4 416.5,201.6 417.5,206.4 418.5,201.1 419.5,202.8 420.5,206.5 421.5,204.6 422.5,207.1 423.5,204.8 424.5,200.8 425.5,208.6 426.5,204.6 427.5,202.9 428.5,204.2 429.5,205.6 430.5,204.6 431.5,203.9 432.5,208.8 433.5,206.8 434.5,209.0 435.5,210.2 436.5,210.8 437.5,210.4 438.5,207.4 439.5,210.9 440.5,207.9 441.5,210.7 442.5,211.8 443.5,209.5 444.5,212.6 445.5,209.5 446.5,214.3 447.5,210.1 448.5,213.4 449.5,214.3 450.5,216.8 451.5,214.4 452.5,214.4 453.5,212.8 454.5,216.1 455.5,212.0 456.5,215.6 457.5,218.8 458.5,216.0 459.5,216.7 460.5,212.5 461.5,215.2 462.5,216.2 463.5,219.4 464.5,218.4 465.5,217.0 466.5,213.4 467.5,222.5 468.5,218.1 469.5,217.5 470.5,222.0 471.5,215.1 472.5,219.1 473.5,220.9 474.5,217.5 475.5,222.1 476.5,222.8 477.5,217.9 478.5,224.6 479.5,223.4 480.5,223.3 481.5,217.1 482.5,222.6 483.5,224.1 484.5,218.3 485.5,222.3 486.5,223.1 487.5,226.5 488.5,224.1 489.5,220.1 490.5,222.8 491.5,222.3 492.5,224.6 493.5,223.1 494.5,225.0 495.5,228.3 496.5,225.6 497.5,226.0 498.5,225.0 499.5,226.3 500.5,224.2 501.5,229.2 502.5,229.2 503.5,227.7 504.5,226.9 505.5,226.8 506.5,228.9 507.5,225.8 508.5,227.0 509.5,229.5 510.5,226.5 511.5,230.8 512.5,231.0 513.5,230.5 514.5,231.6 515.5,227.2 516.5,227.8 517.5,227.4 518.5,231.4 519.5,228.2 520.5,229.2 521.5,227.8 522.5,221.7 523.5,227.9 524.5,230.5 525.5,236.8 526.5,232.9 527.5,234.4 528.5,231.8 529.5,232.9 530.5,232.6 531.5,236.7 532.5,237.4 533.5,235.1 534.5,233.3 535.5,233.7 536.5,234.2 537.5,233.0 538.5,234.9 539.5,227.6 540.5,236.1 541.5,235.4 542.5,239.2 543.5,232.0 544.5,239.7 545.5,241.4 546.5,238.9 547.5,237.0 548.5,234.9 549.5,237.3 550.5,238.0 551.5,236.9 552.5,235.9 553.5,243.5 554.5,242.2 555.5,242.7 556.5,238.9 557.5,242.6 558.5,239.6 559.5,242.9 560.5,241.1 561.5,241.8 562.5,243.0 563.5,236.6 564.5,243.2 565.5,242.7 566.5,244.2 567.5,240.8 568.5,243.4 569.5,245.7 570.5,244.8 571.5,245.1 572.5,239.3 573.5,242.4 574.5,242.4 575.5,244.5 576.5,244.5 577.5,246.9 578.5,246.7 579.5,244.4 580.5,244.9 581.5,247.7 582.5,250.3 583.5,246.5 584.5,249.0 585.5,250.8 586.5,243.7 587.5,249.7 588.5,252.1 589.5,251.2 590.5,252.7 591.5,248.5 592.5,252.6 593.5,255.1 594.5,253.0 595.5,251.2 596.5,253.1 597.5,254.5 598.5,253.3 599.5,254.8 600.5,255.1 601.5,251.1 602.5,254.6 603.5,252.6 604.5,256.0 605.5,256.0 606.5,256.3 607.5,254.9 608.5,257.5 609.5,255.7 610.5,257.1 611.5,257.5 612.5,259.4 613.5,254.5 614.5,255.6 615.5,261.6 616.5,258.9 617.5,258.5 618.5,258.6 619.5,261.3 620.5,259.5 621.5,258.1 622.5,257.3 623.5,259.4 624.5,260.9 625.5,263.3 626.5,259.5 627.5,261.4 628.5,257.3 629.5,263.5 630.5,261.6 631.5,263.7 632.5,265.8 633.5,266.3 634.5,263.3 635.5,264.9 636.5,264.2 637.5,264.3 638.5,263.5 639.5,265.5 640.5,264.3 641.5,267.3 642.5,267.0 643.5,267.4 644.5,264.2 645.5,266.4 646.5,268.8 647.5,270.3 648.5,269.6 649.5,267.1 650.5,266.4 651.5,268.9 652.5,267.4 653.5,269.9 654.5,270.2 655.5,269.9 656.5,272.4 657.5,272.6 658.5,270.2 659.5,272.4 660.5,270.6 661.5,271.1 662.5,272.2 663.5,273.6 664.5,272.9 665.5,272.7 666.5,272.9 667.5,271.7 668.5,274.3 669.5,274.3 670.5,274.2 671.5,274.7 672.5,274.0 673.5,275.4 674.5,274.2 675.5,276.3 676.5,273.2 677.5,274.7 678.5,276.3 679.5,274.5 680.5,276.0 681.5,275.9 682.5,276.2 683.5,276.6 684.5,277.6 685.5,277.1 686.5,276.4 687.5,275.8 688.5,277.0 689.5,276.3 690.5,275.0 691.5,276.9 692.5,280.1 693.5,275.3 694.5,276.6 695.5,279.0 696.5,280.5 697.5,278.0 698.5,280.5 699.5,279.4 700.5,277.9 701.5,279.0 702.5,280.3 703.5,278.0 704.5,279.4 705.5,282.1 706.5,281.5 707.5,284.0 708.5,280.7 709.5,277.2 710.5,281.4 711.5,281.5 712.5,280.9 713.5,282.2 714.5,280.1 715.5,280.0 716.5,281.9 717.5,283.1 718.5,281.2 719.5,283.7 720.5,281.3 721.5,283.0 722.5,280.1 723.5,281.8 724.5,284.0 725.5,284.7 726.5,276.9 727.5,285.5 728.5,282.3 729.5,284.0 730.5,283.5 731.5,285.6 732.5,284.0 733.5,285.6 734.5,284.4 735.5,283.3 736.5,286.3 737.5,283.1 738.5,284.2 739.5,285.9 740.5,286.6 741.5,284.8 742.5,286.6 743.5,286.9 744.5,287.2 745.5,287.5 746.5,288.2 747.5,285.8 748.5,288.0 749.5,283.9 750.5,287.2 751.5,288.2 752.5,283.6 753.5,286.7 754.5,286.6 755.5,288.1 756.5,286.7 757.5,289.4 758.5,285.5 759.5,281.3 760.5,290.1 761.5,285.4 762.5,291.1 763.5,290.3 764.5,291.7 765.5,289.0 766.5,290.1 767.5,291.2 768.5,289.1 769.5,286.9 770.5,288.7 771.5,292.2 772.5,291.6 773.5,290.0 774.5,291.3 775.5,290.4 776.5,290.9 777.5,289.7 778.5,291.0 779.5,292.1 780.5,292.5 781.5,287.0 782.5,294.9 783.5,291.3 784.5,291.6 785.5,292.9 786.5,292.9 787.5,295.4 788.5,295.2 789.5,294.0 790.5,296.0 791.5,296.7 792.5,292.9 793.5,296.1 794.5,295.1 795.5,294.8 796.5,295.8 797.5,296.2 798.5,298.2 799.5,295.7 800.5,292.1 801.5,299.2 802.5,298.8 803.5,300.0 804.5,297.9 805.5,297.0 806.5,296.9 807.5,298.4 808.5,299.5 809.5,300.5 810.5,301.3 811.5,300.7 812.5,301.0 813.5,300.7 814.5,298.3 815.5,300.8 816.5,294.7 817.5,301.7 818.5,300.5 819.5,304.0 820.5,303.1 821.5,303.6 822.5,303.9 823.5,303.4 824.5,306.2 825.5,305.1 826.5,307.4 827.5,305.9 828.5,305.8 829.5,303.7 830.5,304.1 831.5,305.8 832.5,302.2 833.5,309.5 834.5,305.3 835.5,306.1 836.5,305.8 837.5,308.9 838.5,308.2 839.5,309.7 840.5,310.2 841.5,310.5 842.5,307.8 843.5,311.0 844.5,308.6 845.5,311.7 846.5,311.9 847.5,311.9 848.5,311.8 849.5,311.7 850.5,312.8 851.5,312.7 852.5,313.6 853.5,312.3 854.5,314.8 855.5,315.1 856.5,310.7 857.5,313.3 858.5,317.4 859.5,314.6 860.5,317.3 861.5,315.8 862.5,315.2 863.5,311.7 864.5,311.8 865.5,315.9 866.5,318.2 867.5,316.9 868.5,318.7 869.5,318.2 870.5,317.5 871.5,316.5 872.5,319.8 873.5,318.5 874.5,319.4 875.5,319.0 876.5,318.3 877.5,321.1 878.5,319.8 879.5,321.9 880.5,321.9 881.5,323.8 882.5,321.2 883.5,323.3 884.5,321.6 885.5,319.2 886.5,317.6 887.5,320.9 888.5,324.8 889.5,323.2 890.5,318.3 891.5,323.7 892.5,322.9 893.5,324.8 894.5,325.2 895.5,316.1 896.5,324.9 897.5,323.8 898.5,320.4 899.5,325.9 900.5,325.6 901.5,322.4 902.5,321.7 903.5,320.7 904.5,327.7 905.5,325.6 906.5,325.1 907.5,324.9 908.5,325.1 909.5,326.9 910.5,325.5 911.5,325.7 912.5,329.8 913.5,329.7 914.5,324.0 915.5,332.4 916.5,328.8 917.5,330.7 918.5,331.2 919.5,322.6 920.5,324.2 921.5,328.0 922.5,331.4 923.5,328.3 924.5,333.0 925.5,333.8 926.5,332.5 927.5,332.4 928.5,330.9 929.5,333.5 930.5,334.0 931.5,330.5 932.5,332.7 933.5,336.0 934.5,334.3 935.5,335.0 936.5,332.4 937.5,328.6 938.5,333.2 939.5,333.9 940.5,334.3 941.5,334.1 942.5,334.0 943.5,333.5 944.5,337.1 945.5,336.7 946.5,338.2 947.5,335.8 948.5,335.0 949.5,338.6 950.5,337.2 951.5,336.1 952.5,337.9 953.5,339.6 954.5,337.2 955.5,337.7 956.5,339.4 957.5,336.8 958.5,339.9 959.5,341.8 960.5,339.4 961.5,340.1 962.5,342.1 963.5,340.1 964.5,343.1 965.5,338.9 966.5,342.6 967.5,344.1 968.5,341.3 969.5,343.5 970.5,340.8 971.5,343.0 972.5,343.3 973.5,342.7 974.5,344.4 975.5,345.8 976.5,347.5 977.5,345.0 978.5,343.8 979.5,345.4 980.5,345.1 981.5,344.4 982.5,348.5 983.5,350.0 984.5,344.6 985.5,345.8 986.5,350.0 987.5,349.0 988.5,347.4 989.5,346.7 990.5,348.6 991.5,350.5 992.5,349.4 993.5,350.6 994.5,348.9 995.5,349.1 996.5,348.4 997.5,351.1 998.5,351.2 999.5,348.6 1000.5,351.3 1001.5,348.6 1002.5,347.6 1003.5,347.6 1004.5,351.4 1005.5,351.1 1006.5,350.0 1007.5,352.5 1008.5,350.1 1009.5,352.5 1010.5,351.0 1011.5,353.2 1012.5,350.6 1012.5,369.3 1011.5,369.1 1010.5,365.9 1009.5,364.9 1008.5,366.2 1007.5,367.8 1006.5,366.9 1005.5,365.1 1004.5,370.1 1003.5,367.3 1002.5,369.2 1001.5,368.5 1000.5,365.2 999.5,365.6 998.5,364.3 997.5,363.8 996.5,364.6 995.5,362.5 994.5,368.0 993.5,364.1 992.5,365.3 991.5,365.7 990.5,363.3 989.5,363.0 988.5,364.1 987.5,363.3 986.5,367.2 985.5,365.2 984.5,361.4 983.5,364.5 982.5,362.8 981.5,363.1 980.5,364.8 979.5,361.9 978.5,362.5 977.5,362.4 976.5,360.3 975.5,361.8 974.5,359.7 973.5,361.7 972.5,362.9 971.5,361.0 970.5,361.4 969.5,360.6 968.5,359.4 967.5,358.8 966.5,358.7 965.5,358.7 964.5,359.9 963.5,357.5 962.5,358.9 961.5,355.7 960.5,359.1 959.5,358.0 958.5,357.7 957.5,356.9 956.5,359.0 955.5,358.7 954.5,358.6 953.5,356.0 952.5,357.6 951.5,356.7 950.5,355.1 949.5,359.1 948.5,354.9 947.5,355.9 946.5,354.6 945.5,357.1 944.5,354.5 943.5,355.9 942.5,354.6 941.5,354.0 940.5,354.3 939.5,358.3 938.5,354.4 937.5,355.4 936.5,351.0 935.5,350.5 934.5,350.4 933.5,352.8 932.5,351.4 931.5,353.6 930.5,349.5 929.5,352.4 928.5,349.4 927.5,349.6 926.5,352.0 925.5,354.7 924.5,351.0 923.5,353.0 922.5,351.5 921.5,347.5 920.5,353.4 919.5,347.3 918.5,350.1 917.5,350.7 916.5,346.6 915.5,348.5 914.5,347.9 913.5,349.3 912.5,347.1 911.5,347.5 910.5,348.0 909.5,346.2 908.5,345.2 907.5,345.2 906.5,348.2 905.5,345.0 904.5,347.3 903.5,346.4 902.5,348.0 901.5,345.6 900.5,345.4 899.5,343.7 898.5,345.7 897.5,348.6 896.5,344.8 895.5,343.7 894.5,344.1 893.5,342.3 892.5,342.1 891.5,341.2 890.5,341.2 889.5,342.5 888.5,341.9 887.5,344.8 886.5,344.3 885.5,341.0 884.5,339.5 883.5,339.9 882.5,340.3 881.5,338.3 880.5,339.5 879.5,339.6 878.5,341.4 877.5,338.3 876.5,341.7 875.5,336.5 874.5,337.9 873.5,335.1 872.5,336.2 871.5,340.1 870.5,337.7 869.5,334.4 868.5,337.5 867.5,335.8 866.5,336.4 865.5,337.8 864.5,336.1 863.5,338.7 862.5,338.9 861.5,333.5 860.5,334.9 859.5,335.6 858.5,334.0 857.5,335.3 856.5,334.5 855.5,335.7 854.5,330.9 853.5,333.3 852.5,337.2 851.5,332.0 850.5,331.2 849.5,332.4 848.5,335.1 847.5,330.3 846.5,329.5 845.5,330.2 844.5,327.5 843.5,328.9 842.5,330.1 841.5,330.3 840.5,329.5 839.5,328.2 838.5,327.4 837.5,325.4 836.5,327.5 835.5,327.7 834.5,325.4 833.5,324.3 832.5,325.8 831.5,327.2 830.5,325.1 829.5,326.2 828.5,323.3 827.5,324.7 826.5,325.8 825.5,323.9 824.5,324.4 823.5,323.2 822.5,326.7 821.5,320.8 820.5,321.0 819.5,323.3 818.5,321.3 817.5,322.0 816.5,320.0 815.5,320.0 814.5,323.7 813.5,321.2 812.5,323.7 811.5,321.5 810.5,321.1 809.5,316.9 808.5,318.9 807.5,319.5 806.5,317.5 805.5,317.5 804.5,317.5 803.5,319.1 802.5,319.5 801.5,313.0 800.5,317.8 799.5,317.6 798.5,313.5 797.5,323.8 796.5,314.3 795.5,317.1 794.5,314.9 793.5,315.7 792.5,317.2 791.5,316.1 790.5,314.6 789.5,314.0 788.5,314.5 787.5,313.2 786.5,312.3 785.5,320.0 784.5,313.8 783.5,311.6 782.5,310.1 781.5,312.9 780.5,310.6 779.5,316.2 778.5,314.6 777.5,310.2 776.5,311.9 775.5,315.7 774.5,310.6 773.5,310.6 772.5,307.0 771.5,310.5 770.5,311.6 769.5,311.5 768.5,312.6 767.5,315.5 766.5,314.1 765.5,311.3 764.5,307.0 763.5,310.4 762.5,310.8 761.5,311.8 760.5,306.9 759.5,304.8 758.5,305.0 757.5,305.5 756.5,308.9 755.5,307.2 754.5,308.6 753.5,308.7 752.5,304.9 751.5,308.6 750.5,307.9 749.5,309.0 748.5,304.2 747.5,304.4 746.5,303.8 745.5,304.3 744.5,303.3 743.5,302.5 742.5,307.5 741.5,304.1 740.5,305.7 739.5,304.1 738.5,304.6 737.5,303.2 736.5,303.3 735.5,302.7 734.5,302.4 733.5,304.7 732.5,303.2 731.5,302.5 730.5,300.9 729.5,302.8 728.5,298.4 727.5,302.2 726.5,300.1 725.5,298.9 724.5,298.7 723.5,300.2 722.5,299.5 721.5,300.0 720.5,298.6 719.5,299.1 718.5,299.8 717.5,297.7 716.5,298.7 715.5,298.9 714.5,299.7 713.5,297.1 712.5,297.3 711.5,302.6 710.5,297.0 709.5,293.8 708.5,295.7 707.5,295.8 706.5,295.3 705.5,294.9 704.5,293.7 703.5,295.4 702.5,295.2 701.5,296.4 700.5,295.2 699.5,295.9 698.5,295.2 697.5,294.0 696.5,294.5 695.5,294.2 694.5,293.7 693.5,292.4 692.5,292.7 691.5,292.2 690.5,292.3 689.5,292.3 688.5,292.3 687.5,293.9 686.5,290.4 685.5,291.1 684.5,292.5 683.5,290.9 682.5,289.0 681.5,288.9 680.5,288.9 679.5,291.0 678.5,289.1 677.5,293.0 676.5,289.0 675.5,287.5 674.5,287.4 673.5,287.4 672.5,291.3 671.5,289.4 670.5,286.5 669.5,291.1 668.5,285.9 667.5,286.8 666.5,285.7 665.5,286.9 664.5,289.5 663.5,284.1 662.5,285.6 661.5,286.0 660.5,285.1 659.5,284.6 658.5,284.9 657.5,283.6 656.5,285.1 655.5,283.7 654.5,284.0 653.5,284.0 652.5,283.0 651.5,284.4 650.5,284.8 649.5,283.2 648.5,280.2 647.5,281.6 646.5,281.5 645.5,281.1 644.5,280.8 643.5,282.4 642.5,279.8 641.5,279.8 640.5,278.9 639.5,281.4 638.5,279.6 637.5,281.1 636.5,279.8 635.5,281.2 634.5,279.2 633.5,278.7 632.5,280.8 631.5,283.9 630.5,281.7 629.5,280.0 628.5,278.6 627.5,277.0 626.5,277.7 625.5,278.6 624.5,279.7 623.5,278.3 622.5,278.4 621.5,277.1 620.5,275.9 619.5,278.5 618.5,276.6 617.5,279.0 616.5,276.5 615.5,275.9 614.5,277.6 613.5,272.8 612.5,275.4 611.5,277.2 610.5,276.2 609.5,272.8 608.5,275.4 607.5,272.9 606.5,279.9 605.5,274.3 604.5,274.0 603.5,275.2 602.5,274.4 601.5,270.9 600.5,275.4 599.5,272.4 598.5,273.6 597.5,276.3 596.5,273.3 595.5,274.2 594.5,270.3 593.5,269.0 592.5,270.5 591.5,275.6 590.5,268.4 589.5,269.9 588.5,269.5 587.5,270.7 586.5,270.3 585.5,271.5 584.5,269.3 583.5,266.6 582.5,268.2 581.5,269.9 580.5,271.0 579.5,268.1 578.5,268.6 577.5,268.9 576.5,266.5 575.5,265.6 574.5,266.0 573.5,271.6 572.5,269.3 571.5,271.0 570.5,267.0 569.5,271.6 568.5,263.4 567.5,268.3 566.5,265.3 565.5,266.3 564.5,270.2 563.5,266.0 562.5,262.4 561.5,263.5 560.5,266.2 559.5,261.3 558.5,261.1 557.5,267.2 556.5,262.0 555.5,261.3 554.5,259.3 553.5,259.7 552.5,263.7 551.5,266.9 550.5,261.1 549.5,260.0 548.5,263.2 547.5,260.5 546.5,264.2 545.5,262.1 544.5,261.5 543.5,262.1 542.5,258.8 541.5,265.9 540.5,260.8 539.5,258.5 538.5,260.8 537.5,263.1 536.5,261.2 535.5,260.2 534.5,256.8 533.5,258.1 532.5,259.4 531.5,255.5 530.5,255.1 529.5,255.9 528.5,254.4 527.5,258.5 526.5,253.4 525.5,255.2 524.5,253.4 523.5,255.0 522.5,253.3 521.5,254.4 520.5,259.4 519.5,252.3 518.5,252.0 517.5,252.5 516.5,256.0 515.5,250.9 514.5,252.8 513.5,250.8 512.5,249.0 511.5,253.5 510.5,248.9 509.5,250.8 508.5,253.0 507.5,248.8 506.5,250.3 505.5,247.8 504.5,254.9 503.5,247.9 502.5,248.3 501.5,248.7 500.5,248.9 499.5,248.1 498.5,248.8 497.5,252.0 496.5,248.3 495.5,247.1 494.5,249.3 493.5,246.1 492.5,243.2 491.5,246.1 490.5,247.9 489.5,246.3 488.5,245.9 487.5,248.2 486.5,246.4 485.5,244.0 484.5,241.2 483.5,247.5 482.5,247.7 481.5,242.0 480.5,243.8 479.5,243.8 478.5,244.2 477.5,249.9 476.5,242.2 475.5,239.0 474.5,240.7 473.5,244.5 472.5,244.8 471.5,240.1 470.5,245.0 469.5,238.3 468.5,239.1 467.5,238.5 466.5,242.7 465.5,240.1 464.5,237.1 463.5,237.6 462.5,240.8 461.5,237.3 460.5,238.7 459.5,239.8 458.5,237.0 457.5,240.3 456.5,237.2 455.5,235.7 454.5,235.7 453.5,234.6 452.5,233.7 451.5,233.6 450.5,237.1 449.5,234.0 448.5,236.1 447.5,235.6 446.5,233.7 445.5,233.8 444.5,229.8 443.5,235.5 442.5,232.6 441.5,236.5 440.5,231.7 439.5,229.5 438.5,237.0 437.5,233.9 436.5,233.4 435.5,231.2 434.5,231.3 433.5,232.9 432.5,226.8 431.5,230.2 430.5,230.2 429.5,227.2 428.5,231.2 427.5,230.0 426.5,226.5 425.5,232.2 424.5,230.3 423.5,227.1 422.5,227.3 421.5,225.8 420.5,226.8 419.5,230.0 418.5,236.7 417.5,225.3 416.5,228.2 415.5,226.1 414.5,229.1 413.5,225.9 412.5,225.5 411.5,223.9 410.5,226.6 409.5,225.2 408.5,229.7 407.5,223.5 406.5,223.1 405.5,225.3 404.5,227.4 403.5,222.9 402.5,223.0 401.5,222.0 400.5,220.9 399.5,222.1 398.5,220.3 397.5,219.9 396.5,219.9 395.5,222.6 394.5,222.3 393.5,225.7 392.5,221.5 391.5,218.4 390.5,222.4 389.5,222.3 388.5,226.9 387.5,223.2 386.5,220.0 385.5,221.9 384.5,216.3 383.5,219.3 382.5,219.5 381.5,217.6 380.5,222.0 379.5,215.5 378.5,217.0 377.5,217.1 376.5,218.7 375.5,213.6 374.5,217.9 373.5,215.0 372.5,217.5 371.5,214.4 370.5,218.5 369.5,221.8 368.5,216.4 367.5,218.7 366.5,217.3 365.5,215.3 364.5,216.2 363.5,213.8 362.5,215.6 361.5,215.4 360.5,215.1 359.5,216.3 358.5,211.7 357.5,215.6 356.5,208.9 355.5,213.9 354.5,210.8 353.5,214.0 352.5,209.8 351.5,210.5 350.5,212.5 349.5,214.2 348.5,211.2 347.5,217.3 346.5,208.3 345.5,208.7 344.5,212.4 343.5,214.0 342.5,210.9 341.5,211.8 340.5,209.5 339.5,208.8 338.5,208.4 337.5,211.4 336.5,215.8 335.5,208.8 334.5,210.6 333.5,209.1 332.5,209.4 331.5,206.3 330.5,212.0 329.5,208.0 328.5,211.8 327.5,206.1 326.5,208.7 325.5,209.7 324.5,208.8 323.5,205.9 322.5,207.3 321.5,204.4 320.5,205.2 319.5,207.7 318.5,206.8 317.5,204.3 316.5,205.3 315.5,209.8 314.5,208.5 313.5,201.8 312.5,209.4 311.5,204.8 310.5,206.3 309.5,208.1 308.5,208.6 307.5,202.7 306.5,209.3 305.5,201.3 304.5,204.0 303.5,204.0 302.5,208.5 301.5,203.2 300.5,203.7 299.5,201.2 298.5,206.6 297.5,199.3 296.5,206.1 295.5,206.1 294.5,205.2 293.5,199.3 292.5,209.1 291.5,204.7 290.5,202.5 289.5,202.3 288.5,202.6 287.5,199.8 286.5,206.3 285.5,201.3 284.5,201.1 283.5,202.7 282.5,206.2 281.5,205.9 280.5,198.1 279.5,201.0 278.5,199.8 277.5,204.6 276.5,202.0 275.5,201.3 274.5,206.8 273.5,199.5 272.5,197.4 271.5,203.9 270.5,200.2 269.5,198.7 268.5,197.5 267.5,197.5 266.5,198.6 265.5,200.6 264.5,197.2 263.5,199.4 262.5,198.2 261.5,191.8 260.5,192.4 259.5,195.6 258.5,197.6 257.5,195.5 256.5,193.9 255.5,194.4 254.5,194.6 253.5,202.6 252.5,192.6 251.5,193.1 250.5,189.2 249.5,188.3 248.5,190.1 247.5,190.1 246.5,191.4 245.5,189.8 244.5,190.3 243.5,188.5 242.5,189.2 241.5,192.1 240.5,186.1 239.5,188.9 238.5,192.7 237.5,183.7 236.5,185.8 235.5,183.3 234.5,179.7 233.5,178.8 232.5,182.3 231.5,178.6 230.5,178.6 229.5,183.8 228.5,179.1 227.5,177.9 226.5,179.3 225.5,177.1 224.5,178.7 223.5,181.2 222.5,176.2 221.5,171.1 220.5,174.7 219.5,174.1 218.5,173.3 217.5,174.5 216.5,171.0 215.5,170.2 214.5,172.5 213.5,174.5 212.5,167.7 211.5,169.2 210.5,164.6 209.5,166.8 208.5,170.3 207.5,165.0 206.5,164.9 205.5,167.0 204.5,165.0 203.5,160.8 202.5,162.0 201.5,168.7 200.5,156.0 199.5,157.9 198.5,161.2 197.5,155.0 196.5,155.2 195.5,154.9 194.5,156.5 193.5,158.5 192.5,148.4 191.5,151.5 190.5,152.2 189.5,157.3 188.5,148.8 187.5,148.7 186.5,150.3 185.5,149.3 184.5,147.6 183.5,145.3 182.5,146.6 181.5,143.5 180.5,143.5 179.5,142.9 178.5,143.3 177.5,148.4 176.5,144.9 175.5,143.1 174.5,145.7 173.5,142.9 172.5,140.2 171.5,142.8 170.5,135.1 169.5,142.8 168.5,142.2 167.5,133.0 166.5,137.5 165.5,138.5 164.5,131.9 163.5,134.0 162.5,132.6"/><polygon fill="#ff6405" points="162.5,126.5 163.5,130.6 164.5,132.7 165.5,133.3 166.5,133.6 167.5,129.7 168.5,136.4 169.5,135.8 170.5,130.5 171.5,136.9 172.5,138.8 173.5,135.1 174.5,135.1 175.5,140.6 176.5,136.5 177.5,137.9 178.5,142.7 179.5,143.6 180.5,147.6 181.5,145.6 182.5,149.0 183.5,145.2 184.5,149.1 185.5,145.5 186.5,152.7 187.5,147.7 188.5,147.2 189.5,155.2 190.5,153.5 191.5,153.8 192.5,150.5 193.5,154.9 194.5,153.0 195.5,153.8 196.5,153.9 197.5,155.8 198.5,155.2 199.5,154.4 200.5,160.1 201.5,156.4 202.5,161.0 203.5,162.9 204.5,161.1 205.5,163.3 206.5,160.0 207.5,166.0 208.5,161.9 209.5,162.3 210.5,165.6 211.5,170.3 212.5,168.1 213.5,170.5 214.5,172.8 215.5,167.1 216.5,170.3 217.5,168.3 218.5,174.8 219.5,170.4 220.5,171.0 221.5,177.2 222.5,171.1 223.5,174.7 224.5,176.0 225.5,170.5 226.5,180.1 227.5,180.0 228.5,178.4 229.5,180.1 230.5,177.4 231.5,183.1 232.5,182.6 233.5,181.5 234.5,184.6 235.5,180.0 236.5,182.6 237.5,185.4 238.5,184.9 239.5,185.5 240.5,188.7 241.5,184.0 242.5,187.4 243.5,186.1 244.5,185.7 245.5,185.6 246.5,186.3 247.5,190.9 248.5,185.8 249.5,191.2 250.5,191.0 251.5,188.8 252.5,189.3 253.5,192.1 254.5,191.6 255.5,192.2 256.5,192.1 257.5,195.1 258.5,193.0 259.5,194.0 260.5,195.6 261.5,195.4 262.5,195.0 263.5,194.5 264.5,193.1 265.5,195.2 266.5,195.6 267.5,196.0 268.5,199.4 269.5,195.3 270.5,199.0 271.5,195.2 272.5,197.9 273.5,199.3 274.5,199.5 275.5,198.3 276.5,196.8 277.5,200.4 278.5,197.9 279.5,200.5 280.5,201.2 281.5,200.5 282.5,200.0 283.5,202.2 284.5,200.8 285.5,199.7 286.5,202.6 287.5,202.0 288.5,198.8 289.5,201.8 290.5,203.8 291.5,202.0 292.5,202.3 293.5,201.4 294.5,201.0 295.5,200.9 296.5,201.9 297.5,203.5 298.5,203.6 299.5,202.4 300.5,200.7 301.5,202.4 302.5,202.2 303.5,203.1 304.5,203.5 305.5,205.5 306.5,202.6 307.5,200.9 308.5,203.2 309.5,206.0 310.5,204.7 311.5,204.0 312.5,203.2 313.5,203.6 314.5,206.2 315.5,204.8 316.5,205.1 317.5,200.0 318.5,204.1 319.5,205.6 320.5,205.5 321.5,203.7 322.5,205.8 323.5,201.0 324.5,206.5 325.5,205.0 326.5,207.0 327.5,207.8 328.5,207.5 329.5,207.1 330.5,207.7 331.5,210.1 332.5,206.3 333.5,205.0 334.5,206.6 335.5,209.0 336.5,208.9 337.5,208.2 338.5,206.7 339.5,207.3 340.5,208.7 341.5,209.0 342.5,210.5 343.5,206.5 344.5,209.7 345.5,208.7 346.5,209.6 347.5,211.4 348.5,209.2 349.5,206.8 350.5,210.6 351.5,211.4 352.5,210.8 353.5,213.5 354.5,210.9 355.5,213.1 356.5,210.5 357.5,212.4 358.5,211.1 359.5,215.2 360.5,215.6 361.5,210.4 362.5,211.5 363.5,213.1 364.5,211.5 365.5,212.3 366.5,215.9 367.5,213.2 368.5,215.5 369.5,216.2 370.5,215.9 371.5,214.8 372.5,214.9 373.5,214.4 374.5,215.0 375.5,216.1 376.5,217.0 377.5,217.2 378.5,217.4 379.5,216.6 380.5,217.8 381.5,216.1 382.5,218.3 383.5,216.5 384.5,219.8 385.5,212.4 386.5,219.3 387.5,218.2 388.5,218.1 389.5,220.7 390.5,217.0 391.5,216.4 392.5,217.2 393.5,220.5 394.5,214.4 395.5,221.0 396.5,220.2 397.5,222.6 398.5,219.3 399.5,220.6 400.5,221.4 401.5,222.6 402.5,222.1 403.5,223.9 404.5,221.4 405.5,224.0 406.5,224.2 407.5,223.7 408.5,223.2 409.5,225.2 410.5,226.3 411.5,224.7 412.5,226.7 413.5,226.4 414.5,222.6 415.5,226.5 416.5,224.2 417.5,220.9 418.5,226.3 419.5,225.3 420.5,219.4 421.5,223.9 422.5,228.4 423.5,222.3 424.5,228.8 425.5,228.8 426.5,224.4 427.5,228.2 428.5,230.2 429.5,227.4 430.5,229.5 431.5,224.7 432.5,230.9 433.5,227.6 434.5,222.8 435.5,230.4 436.5,231.1 437.5,231.0 438.5,229.3 439.5,227.8 440.5,230.5 441.5,225.8 442.5,232.6 443.5,229.1 444.5,236.7 445.5,236.4 446.5,233.4 447.5,233.8 448.5,235.1 449.5,234.3 450.5,233.8 451.5,234.4 452.5,234.0 453.5,232.4 454.5,235.9 455.5,236.7 456.5,235.3 457.5,236.2 458.5,237.1 459.5,237.1 460.5,237.3 461.5,233.4 462.5,237.8 463.5,236.4 464.5,232.2 465.5,237.5 466.5,238.9 467.5,230.6 468.5,237.5 469.5,240.7 470.5,237.5 471.5,237.2 472.5,239.3 473.5,241.3 474.5,237.4 475.5,237.9 476.5,241.7 477.5,241.1 478.5,243.0 479.5,241.3 480.5,242.4 481.5,244.8 482.5,243.6 483.5,244.3 484.5,244.0 485.5,244.6 486.5,244.8 487.5,243.3 488.5,243.6 489.5,242.7 490.5,248.3 491.5,245.4 492.5,247.4 493.5,245.5 494.5,242.2 495.5,250.4 496.5,250.1 497.5,249.2 498.5,246.7 499.5,249.1 500.5,243.6 501.5,243.6 502.5,249.3 503.5,250.2 504.5,249.2 505.5,246.9 506.5,250.5 507.5,251.7 508.5,246.1 509.5,253.2 510.5,247.5 511.5,248.8 512.5,252.6 513.5,251.1 514.5,250.6 515.5,254.6 516.5,250.0 517.5,254.2 518.5,255.5 519.5,251.7 520.5,253.8 521.5,256.9 522.5,256.3 523.5,257.5 524.5,254.4 525.5,255.3 526.5,255.9 527.5,253.3 528.5,251.7 529.5,257.7 530.5,254.3 531.5,259.6 532.5,256.3 533.5,257.4 534.5,257.6 535.5,255.2 536.5,257.8 537.5,258.8 538.5,257.4 539.5,260.5 540.5,261.2 541.5,259.1 542.5,260.2 543.5,256.8 544.5,261.7 545.5,260.1 546.5,259.5 547.5,261.6 548.5,262.6 549.5,262.7 550.5,261.4 551.5,265.2 552.5,262.2 553.5,261.0 554.5,261.7 555.5,260.8 556.5,265.4 557.5,259.7 558.5,265.2 559.5,263.8 560.5,261.2 561.5,266.3 562.5,264.5 563.5,267.2 564.5,267.2 565.5,262.1 566.5,268.9 567.5,266.2 568.5,265.6 569.5,267.5 570.5,267.3 571.5,268.1 572.5,266.8 573.5,269.0 574.5,263.0 575.5,267.6 576.5,270.6 577.5,268.4 578.5,269.4 579.5,264.5 580.5,268.3 581.5,269.0 582.5,267.6 583.5,271.2 584.5,269.6 585.5,269.3 586.5,271.7 587.5,272.5 588.5,272.4 589.5,272.5 590.5,269.9 591.5,269.2 592.5,272.9 593.5,273.1 594.5,270.9 595.5,274.2 596.5,270.6 597.5,271.3 598.5,272.3 599.5,274.6 600.5,272.2 601.5,272.5 602.5,274.2 603.5,270.1 604.5,276.9 605.5,273.4 606.5,276.2 607.5,271.2 608.5,275.0 609.5,276.7 610.5,277.1 611.5,278.6 612.5,275.9 613.5,277.0 614.5,277.2 615.5,274.7 616.5,276.3 617.5,274.6 618.5,275.6 619.5,279.1 620.5,273.4 621.5,278.9 622.5,275.7 623.5,278.2 624.5,277.6 625.5,275.1 626.5,277.0 627.5,277.9 628.5,273.8 629.5,277.1 630.5,281.2 631.5,280.0 632.5,278.7 633.5,281.4 634.5,276.9 635.5,281.3 636.5,279.9 637.5,276.0 638.5,276.6 639.5,280.0 640.5,276.1 641.5,282.8 642.5,277.2 643.5,279.0 644.5,279.9 645.5,277.0 646.5,280.6 647.5,275.0 648.5,285.6 649.5,277.2 650.5,279.3 651.5,280.1 652.5,283.6 653.5,279.4 654.5,278.8 655.5,284.2 656.5,286.5 657.5,283.8 658.5,279.9 659.5,283.7 660.5,278.5 661.5,286.2 662.5,284.5 663.5,286.1 664.5,283.2 665.5,284.3 666.5,287.0 667.5,284.7 668.5,286.3 669.5,287.1 670.5,290.0 671.5,282.2 672.5,284.3 673.5,290.1 674.5,286.3 675.5,286.8 676.5,283.2 677.5,285.7 678.5,285.8 679.5,282.0 680.5,289.3 681.5,290.0 682.5,292.0 683.5,283.4 684.5,286.3 685.5,290.7 686.5,289.9 687.5,286.9 688.5,292.1 689.5,291.6 690.5,289.5 691.5,293.1 692.5,292.6 693.5,290.2 694.5,295.7 695.5,292.0 696.5,293.3 697.5,291.8 698.5,291.7 699.5,292.4 700.5,291.9 701.5,294.0 702.5,292.6 703.5,288.3 704.5,295.0 705.5,298.0 706.5,296.1 707.5,295.7 708.5,294.4 709.5,297.3 710.5,296.8 711.5,293.4 712.5,293.3 713.5,294.4 714.5,298.1 715.5,296.8 716.5,295.2 717.5,299.0 718.5,300.0 719.5,295.2 720.5,301.2 721.5,300.1 722.5,300.9 723.5,301.1 724.5,301.0 725.5,301.7 726.5,298.5 727.5,301.8 728.5,303.5 729.5,304.1 730.5,302.6 731.5,300.7 732.5,301.3 733.5,305.0 734.5,306.1 735.5,301.8 736.5,306.7 737.5,307.7 738.5,304.3 739.5,308.5 740.5,301.6 741.5,301.9 742.5,306.5 743.5,304.7 744.5,307.9 745.5,307.2 746.5,304.3 747.5,308.4 748.5,303.5 749.5,307.9 750.5,308.9 751.5,309.6 752.5,310.4 753.5,309.9 754.5,310.7 755.5,309.5 756.5,309.0 757.5,310.8 758.5,309.5 759.5,312.0 760.5,312.4 761.5,311.6 762.5,308.6 763.5,312.2 764.5,315.4 765.5,311.8 766.5,311.4 767.5,314.6 768.5,308.6 769.5,314.7 770.5,313.2 771.5,316.1 772.5,315.2 773.5,316.5 774.5,316.6 775.5,315.1 776.5,316.2 777.5,313.2 778.5,313.3 779.5,318.1 780.5,312.7 781.5,317.9 782.5,318.6 783.5,318.0 784.5,317.4 785.5,318.5 786.5,318.8 787.5,316.6 788.5,317.9 789.5,317.8 790.5,319.0 791.5,317.0 792.5,320.6 793.5,319.5 794.5,321.4 795.5,320.0 796.5,322.8 797.5,321.9 798.5,323.3 799.5,320.5 800.5,320.9 801.5,325.1 802.5,319.9 803.5,320.4 804.5,320.2 805.5,320.8 806.5,324.9 807.5,322.4 808.5,321.4 809.5,327.0 810.5,325.2 811.5,326.0 812.5,325.2 813.5,326.7 814.5,326.8 815.5,325.4 816.5,326.5 817.5,325.3 818.5,327.6 819.5,328.8 820.5,326.7 821.5,326.4 822.5,329.3 823.5,331.2 824.5,330.8 825.5,331.8 826.5,326.9 827.5,325.7 828.5,330.2 829.5,327.5 830.5,327.9 831.5,330.8 832.5,330.4 833.5,331.6 834.5,334.8 835.5,332.4 836.5,331.1 837.5,333.6 838.5,332.6 839.5,328.9 840.5,330.7 841.5,334.7 842.5,334.3 843.5,336.6 844.5,332.2 845.5,335.6 846.5,336.8 847.5,336.0 848.5,334.4 849.5,334.3 850.5,334.7 851.5,335.6 852.5,335.6 853.5,337.5 854.5,337.5 855.5,339.3 856.5,338.4 857.5,339.0 858.5,339.9 859.5,336.4 860.5,341.1 861.5,338.2 862.5,340.1 863.5,340.2 864.5,337.8 865.5,340.9 866.5,339.4 867.5,340.0 868.5,334.9 869.5,341.0 870.5,341.2 871.5,343.3 872.5,340.9 873.5,342.7 874.5,342.6 875.5,341.6 876.5,341.3 877.5,342.7 878.5,343.2 879.5,344.3 880.5,341.8 881.5,346.3 882.5,343.9 883.5,343.2 884.5,343.9 885.5,345.8 886.5,339.7 887.5,347.7 888.5,345.6 889.5,347.1 890.5,346.9 891.5,346.2 892.5,345.8 893.5,350.2 894.5,347.5 895.5,344.6 896.5,342.3 897.5,347.6 898.5,350.9 899.5,348.7 900.5,351.0 901.5,351.1 902.5,348.1 903.5,349.5 904.5,352.4 905.5,349.7 906.5,348.2 907.5,353.0 908.5,353.8 909.5,351.5 910.5,349.2 911.5,352.6 912.5,353.9 913.5,354.2 914.5,350.7 915.5,350.4 916.5,352.3 917.5,353.8 918.5,351.5 919.5,352.1 920.5,354.5 921.5,355.5 922.5,355.7 923.5,354.7 924.5,354.8 925.5,356.6 926.5,355.6 927.5,355.1 928.5,354.5 929.5,357.9 930.5,357.9 931.5,349.8 932.5,359.0 933.5,354.2 934.5,358.8 935.5,360.7 936.5,358.3 937.5,357.5 938.5,360.6 939.5,357.4 940.5,358.4 941.5,361.4 942.5,361.1 943.5,356.8 944.5,361.0 945.5,360.7 946.5,360.8 947.5,363.1 948.5,362.5 949.5,362.4 950.5,362.6 951.5,361.8 952.5,365.4 953.5,364.7 954.5,365.3 955.5,364.1 956.5,364.0 957.5,365.7 958.5,366.6 959.5,365.2 960.5,367.8 961.5,367.0 962.5,363.9 963.5,367.0 964.5,362.8 965.5,366.2 966.5,366.2 967.5,368.8 968.5,369.1 969.5,366.9 970.5,367.7 971.5,368.5 972.5,370.1 973.5,370.8 974.5,370.1 975.5,367.6 976.5,373.0 977.5,371.0 978.5,371.6 979.5,369.8 980.5,370.5 981.5,371.8 982.5,371.4 983.5,373.4 984.5,372.4 985.5,374.9 986.5,369.8 987.5,373.6 988.5,372.6 989.5,372.4 990.5,374.6 991.5,372.5 992.5,374.9 993.5,373.6 994.5,374.7 995.5,374.1 996.5,376.0 997.5,375.2 998.5,376.0 999.5,375.6 1000.5,373.7 1001.5,376.4 1002.5,376.4 1003.5,376.8 1004.5,375.3 1005.5,377.8 1006.5,375.7 1007.5,374.7 1008.5,376.4 1009.5,375.2 1010.5,375.6 1011.5,377.7 1012.5,374.5 1012.5,391.9 1011.5,392.6 1010.5,394.9 1009.5,392.6 1008.5,391.5 1007.5,390.4 1006.5,390.9 1005.5,391.7 1004.5,390.7 1003.5,388.9 1002.5,389.5 1001.5,389.9 1000.5,388.0 999.5,388.4 998.5,388.0 997.5,386.8 996.5,387.7 995.5,390.2 994.5,388.8 993.5,387.3 992.5,387.7 991.5,389.7 990.5,387.0 989.5,386.2 988.5,386.3 987.5,390.2 986.5,385.9 985.5,387.2 984.5,387.9 983.5,384.8 982.5,387.3 981.5,384.9 980.5,386.0 979.5,383.6 978.5,384.3 977.5,385.3 976.5,384.5 975.5,382.9 974.5,383.5 973.5,385.4 972.5,381.6 971.5,384.6 970.5,383.4 969.5,384.2 968.5,381.2 967.5,381.5 966.5,382.3 965.5,380.1 964.5,381.1 963.5,381.6 962.5,382.1 961.5,382.5 960.5,380.4 959.5,381.1 958.5,380.3 957.5,381.6 956.5,381.9 955.5,381.4 954.5,378.4 953.5,380.6 952.5,378.7 951.5,379.8 950.5,376.3 949.5,383.6 948.5,377.7 947.5,378.3 946.5,379.1 945.5,377.1 944.5,378.9 943.5,377.9 942.5,382.0 941.5,379.3 940.5,375.8 939.5,376.9 938.5,377.9 937.5,378.1 936.5,377.2 935.5,372.5 934.5,373.2 933.5,374.4 932.5,376.7 931.5,374.2 930.5,374.7 929.5,371.4 928.5,377.6 927.5,372.9 926.5,375.2 925.5,372.5 924.5,372.3 923.5,371.5 922.5,372.5 921.5,369.8 920.5,371.2 919.5,371.3 918.5,369.0 917.5,369.9 916.5,371.5 915.5,367.4 914.5,370.4 913.5,371.6 912.5,367.5 911.5,370.4 910.5,367.6 909.5,368.7 908.5,366.4 907.5,368.6 906.5,368.5 905.5,366.1 904.5,369.2 903.5,367.0 902.5,368.6 901.5,364.2 900.5,367.1 899.5,364.0 898.5,364.0 897.5,363.7 896.5,364.0 895.5,367.8 894.5,365.0 893.5,363.3 892.5,362.2 891.5,363.5 890.5,363.4 889.5,361.0 888.5,364.2 887.5,361.2 886.5,365.0 885.5,365.7 884.5,360.9 883.5,365.1 882.5,367.3 881.5,364.6 880.5,359.4 879.5,360.7 878.5,361.2 877.5,359.7 876.5,361.6 875.5,360.6 874.5,362.6 873.5,361.0 872.5,358.3 871.5,361.6 870.5,358.6 869.5,362.1 868.5,358.5 867.5,359.3 866.5,361.0 865.5,357.2 864.5,356.7 863.5,358.6 862.5,359.3 861.5,357.5 860.5,358.7 859.5,358.3 858.5,356.2 857.5,355.1 856.5,358.6 855.5,355.6 854.5,355.8 853.5,353.6 852.5,353.4 851.5,356.4 850.5,355.0 849.5,355.3 848.5,353.6 847.5,360.7 846.5,355.6 845.5,352.1 844.5,350.9 843.5,354.5 842.5,356.2 841.5,351.8 840.5,350.5 839.5,352.5 838.5,349.2 837.5,351.0 836.5,352.4 835.5,350.4 834.5,351.2 833.5,348.6 832.5,348.6 831.5,348.5 830.5,352.6 829.5,352.4 828.5,347.2 827.5,349.3 826.5,346.3 825.5,348.5 824.5,346.6 823.5,348.4 822.5,345.4 821.5,347.9 820.5,344.7 819.5,347.8 818.5,344.4 817.5,345.4 816.5,344.2 815.5,346.6 814.5,344.5 813.5,344.4 812.5,342.4 811.5,342.7 810.5,343.6 809.5,345.6 808.5,341.2 807.5,344.5 806.5,342.6 805.5,340.8 804.5,341.7 803.5,342.4 802.5,339.7 801.5,344.4 800.5,337.6 799.5,342.0 798.5,341.4 797.5,341.9 796.5,341.7 795.5,340.0 794.5,339.1 793.5,342.2 792.5,342.1 791.5,341.8 790.5,339.3 789.5,339.3 788.5,338.4 787.5,340.9 786.5,336.9 785.5,338.5 784.5,335.5 783.5,340.2 782.5,335.4 781.5,334.2 780.5,334.0 779.5,338.4 778.5,332.2 777.5,332.6 776.5,334.9 775.5,337.9 774.5,332.6 773.5,332.5 772.5,331.1 771.5,332.5 770.5,331.2 769.5,334.8 768.5,336.6 767.5,329.1 766.5,334.5 765.5,332.0 764.5,329.9 763.5,330.9 762.5,330.1 761.5,328.6 760.5,329.9 759.5,329.5 758.5,332.0 757.5,329.0 756.5,329.6 755.5,333.7 754.5,329.5 753.5,328.5 752.5,328.3 751.5,328.1 750.5,328.4 749.5,326.0 748.5,326.5 747.5,328.2 746.5,329.1 745.5,330.3 744.5,326.5 743.5,324.6 742.5,323.0 741.5,325.4 740.5,323.6 739.5,326.8 738.5,324.9 737.5,324.1 736.5,323.7 735.5,324.4 734.5,322.5 733.5,327.1 732.5,328.8 731.5,324.1 730.5,322.4 729.5,323.1 728.5,323.0 727.5,324.0 726.5,320.6 725.5,321.3 724.5,320.6 723.5,317.8 722.5,322.0 721.5,322.6 720.5,321.7 719.5,320.3 718.5,319.3 717.5,318.0 716.5,320.0 715.5,317.6 714.5,319.9 713.5,319.2 712.5,319.6 711.5,317.0 710.5,318.3 709.5,319.2 708.5,322.7 707.5,315.3 706.5,314.2 705.5,320.1 704.5,317.2 703.5,315.8 702.5,320.5 701.5,317.3 700.5,318.7 699.5,316.0 698.5,317.3 697.5,313.7 696.5,320.1 695.5,316.5 694.5,315.1 693.5,313.5 692.5,315.6 691.5,317.5 690.5,312.7 689.5,314.3 688.5,314.3 687.5,317.3 686.5,316.1 685.5,310.8 684.5,314.9 683.5,315.9 682.5,313.8 681.5,316.9 680.5,316.0 679.5,315.5 678.5,312.7 677.5,316.5 676.5,317.1 675.5,311.5 674.5,317.1 673.5,316.2 672.5,312.6 671.5,310.3 670.5,311.8 669.5,312.4 668.5,315.7 667.5,311.9 666.5,307.2 665.5,311.5 664.5,315.7 663.5,312.1 662.5,310.7 661.5,307.4 660.5,309.5 659.5,308.8 658.5,308.0 657.5,307.9 656.5,309.4 655.5,307.9 654.5,305.2 653.5,312.8 652.5,304.2 651.5,305.3 650.5,307.5 649.5,307.6 648.5,305.4 647.5,308.0 646.5,307.0 645.5,305.2 644.5,305.4 643.5,304.7 642.5,311.0 641.5,305.0 640.5,302.0 639.5,305.3 638.5,304.2 637.5,306.4 636.5,303.2 635.5,304.1 634.5,302.4 633.5,300.4 632.5,302.5 631.5,303.0 630.5,304.7 629.5,301.3 628.5,300.1 627.5,297.4 626.5,302.0 625.5,297.9 624.5,300.6 623.5,299.5 622.5,301.5 621.5,297.8 620.5,297.5 619.5,298.8 618.5,297.6 617.5,296.7 616.5,297.4 615.5,295.0 614.5,293.5 613.5,297.7 612.5,295.8 611.5,298.1 610.5,296.2 609.5,294.4 608.5,294.8 607.5,292.4 606.5,294.0 605.5,292.9 604.5,292.0 603.5,293.7 602.5,291.1 601.5,293.3 600.5,295.4 599.5,294.2 598.5,296.2 597.5,297.4 596.5,289.4 595.5,288.7 594.5,294.2 593.5,290.5 592.5,291.5 591.5,288.8 590.5,286.6 589.5,287.8 588.5,288.8 587.5,288.9 586.5,287.6 585.5,288.0 584.5,289.8 583.5,284.9 582.5,287.7 581.5,289.2 580.5,287.3 579.5,284.6 578.5,287.0 577.5,284.5 576.5,284.2 575.5,283.4 574.5,286.8 573.5,284.2 572.5,284.9 571.5,284.3 570.5,288.9 569.5,284.3 568.5,285.5 567.5,283.6 566.5,283.7 565.5,284.1 564.5,284.2 563.5,290.7 562.5,287.0 561.5,283.6 560.5,284.4 559.5,282.9 558.5,282.6 557.5,284.4 556.5,283.5 555.5,282.7 554.5,281.5 553.5,283.6 552.5,281.4 551.5,283.0 550.5,281.9 549.5,279.7 548.5,281.3 547.5,278.0 546.5,281.3 545.5,281.8 544.5,278.3 543.5,277.0 542.5,277.3 541.5,281.2 540.5,279.6 539.5,276.6 538.5,276.2 537.5,282.4 536.5,278.7 535.5,279.5 534.5,280.1 533.5,279.0 532.5,275.1 531.5,280.6 530.5,278.7 529.5,275.6 528.5,277.7 527.5,278.3 526.5,274.3 525.5,276.2 524.5,279.4 523.5,277.6 522.5,274.3 521.5,275.9 520.5,274.3 519.5,277.8 518.5,275.7 517.5,275.6 516.5,272.8 515.5,276.8 514.5,275.1 513.5,275.2 512.5,271.5 511.5,270.6 510.5,274.2 509.5,271.2 508.5,273.0 507.5,272.5 506.5,271.5 505.5,268.9 504.5,273.7 503.5,277.0 502.5,271.3 501.5,270.7 500.5,274.5 499.5,269.8 498.5,273.1 497.5,273.1 496.5,272.6 495.5,273.2 494.5,267.7 493.5,271.9 492.5,268.6 491.5,269.3 490.5,266.6 489.5,264.2 488.5,266.7 487.5,266.6 486.5,268.6 485.5,264.6 484.5,266.9 483.5,265.2 482.5,266.5 481.5,265.0 480.5,265.1 479.5,268.8 478.5,263.8 477.5,268.9 476.5,268.4 475.5,264.5 474.5,265.0 473.5,267.3 472.5,264.3 471.5,262.9 470.5,262.5 469.5,266.8 468.5,267.5 467.5,260.6 466.5,263.1 465.5,267.9 464.5,264.6 463.5,262.3 462.5,260.7 461.5,257.9 460.5,258.6 459.5,259.4 458.5,258.6 457.5,263.1 456.5,261.2 455.5,258.7 454.5,264.2 453.5,260.8 452.5,257.7 451.5,257.6 450.5,261.6 449.5,257.3 448.5,260.0 447.5,260.6 446.5,254.3 445.5,258.0 444.5,256.9 443.5,259.8 442.5,263.2 441.5,253.3 440.5,253.2 439.5,254.0 438.5,255.2 437.5,259.6 436.5,255.3 435.5,255.1 434.5,254.9 433.5,253.2 432.5,250.4 431.5,253.2 430.5,251.1 429.5,252.3 428.5,250.1 427.5,253.1 426.5,251.3 425.5,246.4 424.5,249.7 423.5,248.0 422.5,248.4 421.5,246.8 420.5,247.3 419.5,250.7 418.5,244.9 417.5,244.2 416.5,244.3 415.5,252.6 414.5,248.2 413.5,246.9 412.5,243.2 411.5,245.2 410.5,244.3 409.5,241.7 408.5,245.9 407.5,244.8 406.5,243.4 405.5,240.5 404.5,242.6 403.5,241.1 402.5,244.0 401.5,241.6 400.5,243.7 399.5,238.8 398.5,240.2 397.5,239.7 396.5,241.9 395.5,238.8 394.5,239.3 393.5,238.5 392.5,236.5 391.5,239.2 390.5,240.5 389.5,238.6 388.5,235.1 387.5,235.5 386.5,235.0 385.5,239.3 384.5,234.7 383.5,234.7 382.5,232.8 381.5,234.6 380.5,233.3 379.5,232.8 378.5,234.6 377.5,234.4 376.5,237.2 375.5,233.6 374.5,233.0 373.5,233.3 372.5,233.5 371.5,229.4 370.5,232.2 369.5,229.3 368.5,231.9 367.5,232.2 366.5,231.1 365.5,229.2 364.5,228.8 363.5,227.5 362.5,229.9 361.5,226.5 360.5,229.4 359.5,226.7 358.5,227.1 357.5,227.3 356.5,226.2 355.5,226.9 354.5,228.1 353.5,227.7 352.5,226.0 351.5,224.6 350.5,225.0 349.5,223.6 348.5,226.2 347.5,225.8 346.5,225.7 345.5,224.9 344.5,226.6 343.5,223.7 342.5,225.4 341.5,224.0 340.5,222.8 339.5,224.8 338.5,225.1 337.5,222.9 336.5,226.7 335.5,227.3 334.5,222.5 333.5,223.8 332.5,221.8 331.5,224.4 330.5,223.7 329.5,221.5 328.5,220.2 327.5,220.2 326.5,219.1 325.5,221.9 324.5,223.1 323.5,221.3 322.5,220.9 321.5,219.3 320.5,220.5 319.5,218.7 318.5,218.8 317.5,221.3 316.5,218.6 315.5,216.8 314.5,220.3 313.5,221.4 312.5,216.8 311.5,218.9 310.5,220.1 309.5,218.6 308.5,216.2 307.5,214.9 306.5,217.2 305.5,216.6 304.5,216.8 303.5,217.2 302.5,216.2 301.5,215.6 300.5,216.9 299.5,214.9 298.5,214.5 297.5,216.4 296.5,217.3 295.5,216.1 294.5,215.8 293.5,214.8 292.5,212.3 291.5,213.4 290.5,214.7 289.5,214.7 288.5,214.6 287.5,215.6 286.5,212.5 285.5,211.4 284.5,213.6 283.5,212.0 282.5,214.2 281.5,212.7 280.5,212.7 279.5,214.7 278.5,213.7 277.5,212.1 276.5,212.9 275.5,214.1 274.5,213.9 273.5,210.6 272.5,211.5 271.5,210.0 270.5,210.4 269.5,214.1 268.5,213.0 267.5,211.6 266.5,210.6 265.5,210.9 264.5,210.9 263.5,210.3 262.5,211.6 261.5,210.4 260.5,211.8 259.5,210.8 258.5,212.4 257.5,215.1 256.5,208.6 255.5,217.1 254.5,209.2 253.5,210.3 252.5,209.6 251.5,210.6 250.5,208.5 249.5,208.9 248.5,209.5 247.5,206.7 246.5,207.7 245.5,205.9 244.5,207.0 243.5,206.8 242.5,210.5 241.5,205.4 240.5,204.7 239.5,208.1 238.5,206.3 237.5,206.9 236.5,205.7 235.5,206.0 234.5,211.1 233.5,204.8 232.5,203.5 231.5,203.5 230.5,206.1 229.5,199.8 228.5,200.8 227.5,200.8 226.5,203.5 225.5,201.8 224.5,197.0 223.5,202.0 222.5,201.0 221.5,200.6 220.5,194.7 219.5,200.8 218.5,195.6 217.5,200.4 216.5,196.8 215.5,195.6 214.5,196.8 213.5,193.1 212.5,191.4 211.5,195.0 210.5,198.0 209.5,190.5 208.5,192.6 207.5,190.6 206.5,193.6 205.5,196.2 204.5,186.6 203.5,188.3 202.5,185.8 201.5,186.7 200.5,189.9 199.5,187.3 198.5,186.9 197.5,183.3 196.5,189.8 195.5,187.5 194.5,181.0 193.5,181.7 192.5,191.6 191.5,183.6 190.5,179.3 189.5,179.8 188.5,178.8 187.5,178.6 186.5,175.0 185.5,174.4 184.5,171.5 183.5,175.7 182.5,175.9 181.5,173.7 180.5,170.8 179.5,169.4 178.5,165.4 177.5,175.2 176.5,170.9 175.5,163.0 174.5,166.2 173.5,164.8 172.5,166.8 171.5,165.8 170.5,161.1 169.5,164.1 168.5,160.0 167.5,164.2 166.5,157.5 165.5,158.9 164.5,159.0 163.5,158.6 162.5,162.3"/></g><g><line x1="1239.80" y1="568.50" x2="1243.30" y2="566.42" stroke="#fff" stroke-width="5.0"/><line x1="1239.80" y1="568.50" x2="1882.50" y2="186.75" stroke="#000" stroke-width="2.5"/><path d="M1268.8,507.7H1274.8M1271.8,504.7V510.7" stroke="#222" stroke-width="1.6" fill="none"/><path d="M1268.8,535.9H1274.8M1271.8,532.9V538.9" stroke="#222" stroke-width="1.6" fill="none"/><polygon points="1271.8,516.4 1277.5,522.1 1271.8,527.8 1266.1,522.1" fill="#fff" stroke="#333" stroke-width="1.3"/><path d="M1328.4,482.4H1334.4M1331.4,479.4V485.4" stroke="#222" stroke-width="1.6" fill="none"/><path d="M1328.4,515.8H1334.4M1331.4,512.8V518.8" stroke="#222" stroke-width="1.6" fill="none"/><path d="M1322.7,499.2H1328.7M1325.7,496.2V502.2" stroke="#222" stroke-width="1.6" fill="none"/><path d="M1334.9,499.2H1340.9M1337.9,496.2V502.2" stroke="#222" stroke-width="1.6" fill="none"/><polygon points="1331.4,493.5 1337.1,499.2 1331.4,504.9 1325.7,499.2" fill="#fff" stroke="#333" stroke-width="1.3"/><path d="M1397.5,443.1H1403.5M1400.5,440.1V446.1" stroke="#222" stroke-width="1.6" fill="none"/><path d="M1397.5,466.0H1403.5M1400.5,463.0V469.0" stroke="#222" stroke-width="1.6" fill="none"/><path d="M1388.2,454.6H1394.2M1391.2,451.6V457.6" stroke="#222" stroke-width="1.6" fill="none"/><path d="M1406.2,454.6H1412.2M1409.2,451.6V457.6" stroke="#222" stroke-width="1.6" fill="none"/><polygon points="1400.5,448.9 1406.2,454.6 1400.5,460.3 1394.8,454.6" fill="#fff" stroke="#333" stroke-width="1.3"/><path d="M1471.4,407.4H1477.4M1474.4,404.4V410.4" stroke="#222" stroke-width="1.6" fill="none"/><path d="M1471.4,429.3H1477.4M1474.4,426.3V432.3" stroke="#222" stroke-width="1.6" fill="none"/><path d="M1454.1,417.9H1460.1M1457.1,414.9V420.9" stroke="#222" stroke-width="1.6" fill="none"/><path d="M1488.6,417.9H1494.6M1491.6,414.9V420.9" stroke="#222" stroke-width="1.6" fill="none"/><polygon points="1474.4,412.2 1480.1,417.9 1474.4,423.6 1468.7,417.9" fill="#fff" stroke="#333" stroke-width="1.3"/><path d="M1517.1,364.1H1523.1M1520.1,361.1V367.1" stroke="#222" stroke-width="1.6" fill="none"/><path d="M1517.1,391.7H1523.1M1520.1,388.7V394.7" stroke="#222" stroke-width="1.6" fill="none"/><path d="M1511.3,378.2H1517.3M1514.3,375.2V381.2" stroke="#222" stroke-width="1.6" fill="none"/><path d="M1523.5,378.2H1529.5M1526.5,375.2V381.2" stroke="#222" stroke-width="1.6" fill="none"/><polygon points="1520.1,372.5 1525.8,378.2 1520.1,383.9 1514.4,378.2" fill="#fff" stroke="#333" stroke-width="1.3"/><path d="M1613.6,334.0H1619.6M1616.6,331.0V337.0" stroke="#222" stroke-width="1.6" fill="none"/><path d="M1613.6,351.5H1619.6M1616.6,348.5V354.5" stroke="#222" stroke-width="1.6" fill="none"/><path d="M1599.6,342.7H1605.6M1602.6,339.7V345.7" stroke="#222" stroke-width="1.6" fill="none"/><path d="M1628.1,342.7H1634.1M1631.1,339.7V345.7" stroke="#222" stroke-width="1.6" fill="none"/><polygon points="1616.6,337.0 1622.3,342.7 1616.6,348.4 1610.9,342.7" fill="#fff" stroke="#333" stroke-width="1.3"/><polygon points="1711.9,265.6 1717.6,271.2 1711.9,276.9 1706.2,271.2" fill="#fff" stroke="#333" stroke-width="1.3"/><path d="M1880.8,216.4H1886.8M1883.8,213.4V219.4" stroke="#222" stroke-width="1.6" fill="none"/><path d="M1880.8,229.3H1886.8M1883.8,226.3V232.3" stroke="#222" stroke-width="1.6" fill="none"/><path d="M1873.4,222.9H1879.4M1876.4,219.9V225.9" stroke="#222" stroke-width="1.6" fill="none"/><path d="M1888.2,222.9H1894.2M1891.2,219.9V225.9" stroke="#222" stroke-width="1.6" fill="none"/><polygon points="1883.8,217.2 1889.5,222.9 1883.8,228.6 1878.1,222.9" fill="#fff" stroke="#333" stroke-width="1.3"/><polygon points="1240.5,642.5 1246.2,648.2 1240.5,653.9 1234.8,648.2" fill="#fff" stroke="none"/></g><defs><clipPath id="nofoot"><path clip-rule="evenodd" d="M0,0H2162V801H0ZM73.005,658.000H81.504V664.000H73.005ZM87.541,658.000H95.480V664.000H87.541ZM694.784,713.000H703.197V719.000H694.784ZM709.166,713.000H717.026V719.000H709.166ZM978.451,713.000H986.864V719.000H978.451ZM992.832,713.000H1000.693V719.000H992.832ZM1163.830,282.000H1172.328V288.000H1163.830ZM1178.365,282.000H1186.305V288.000H1178.365ZM1163.830,94.000H1172.328V100.000H1163.830ZM1178.365,94.000H1186.305V100.000H1178.365ZM1734.995,714.000H1743.408V720.000H1734.995ZM1749.377,714.000H1757.237V720.000H1749.377ZM2017.662,714.000H2026.075V720.000H2017.662ZM2032.043,714.000H2039.904V720.000H2032.043Z"/></clipPath></defs><g fill="#000" clip-path="url(#nofoot)"><text x="132.40" y="177.70" font-family="'Liberation Sans', Arial, Helvetica, sans-serif" font-size="44" font-weight="bold" font-style="normal" text-anchor="end" >2.4</text><text x="132.40" y="339.57" font-family="'Liberation Sans', Arial, Helvetica, sans-serif" font-size="44" font-weight="bold" font-style="normal" text-anchor="end" >2.2</text><text x="132.40" y="501.43" font-family="'Liberation Sans', Arial, Helvetica, sans-serif" font-size="44" font-weight="bold" font-style="normal" text-anchor="end" >2.0</text><text x="132.40" y="663.30" font-family="'Liberation Sans', Arial, Helvetica, sans-serif" font-size="44" font-weight="bold" font-style="normal" text-anchor="end" >1.8</text><text x="162.00" y="718.50" font-family="'Liberation Sans', Arial, Helvetica, sans-serif" font-size="43.5" font-weight="bold" font-style="normal" text-anchor="middle" >0</text><text x="445.67" y="718.50" font-family="'Liberation Sans', Arial, Helvetica, sans-serif" font-size="43.5" font-weight="bold" font-style="normal" text-anchor="middle" >60</text><text x="729.33" y="718.50" font-family="'Liberation Sans', Arial, Helvetica, sans-serif" font-size="43.5" font-weight="bold" font-style="normal" text-anchor="middle" >120</text><text x="1013.00" y="718.50" font-family="'Liberation Sans', Arial, Helvetica, sans-serif" font-size="43.5" font-weight="bold" font-style="normal" text-anchor="middle" >180</text><text x="1211.00" y="663.60" font-family="'Liberation Sans', Arial, Helvetica, sans-serif" font-size="44" font-weight="bold" font-style="normal" text-anchor="end" >0</text><text x="1211.00" y="475.27" font-family="'Liberation Sans', Arial, Helvetica, sans-serif" font-size="44" font-weight="bold" font-style="normal" text-anchor="end" >5</text><text x="1211.00" y="286.93" font-family="'Liberation Sans', Arial, Helvetica, sans-serif" font-size="44" font-weight="bold" font-style="normal" text-anchor="end" >10</text><text x="1211.00" y="98.60" font-family="'Liberation Sans', Arial, Helvetica, sans-serif" font-size="44" font-weight="bold" font-style="normal" text-anchor="end" >15</text><text x="1240.50" y="719.00" font-family="'Liberation Sans', Arial, Helvetica, sans-serif" font-size="43.5" font-weight="bold" font-style="normal" text-anchor="middle" >0</text><text x="1523.17" y="719.00" font-family="'Liberation Sans', Arial, Helvetica, sans-serif" font-size="43.5" font-weight="bold" font-style="normal" text-anchor="middle" >50000</text><text x="1805.83" y="719.00" font-family="'Liberation Sans', Arial, Helvetica, sans-serif" font-size="43.5" font-weight="bold" font-style="normal" text-anchor="middle" >100000</text><text x="2088.50" y="719.00" font-family="'Liberation Sans', Arial, Helvetica, sans-serif" font-size="43.5" font-weight="bold" font-style="normal" text-anchor="middle" >150000</text><text x="586.30" y="786.00" font-family="'Liberation Sans', Arial, Helvetica, sans-serif" font-size="46.5" font-weight="bold" font-style="normal" text-anchor="middle" >time [min]</text><text x="1665.00" y="786.00" font-family="'Liberation Sans', Arial, Helvetica, sans-serif" font-size="46.5" font-weight="bold" font-style="normal" text-anchor="middle" >6-dEB EIC peak area</text><text transform="translate(36.75,469) rotate(-90)" font-family="'Liberation Sans', Arial, Helvetica, sans-serif" font-weight="bold" font-size="45.5">Abs<tspan font-size="35" letter-spacing="1.75" dy="11.25" dx="-0.6">360 nm</tspan></text><text transform="translate(1134,547) rotate(-90)" font-family="'Liberation Sans', Arial, Helvetica, sans-serif" font-weight="bold" font-size="47">6-dEB [µM calc.]</text><text transform="translate(57,74.5) scale(0.91,1)" font-family="'Liberation Sans', Arial, Helvetica, sans-serif" font-weight="bold" font-size="100">a</text><text transform="translate(1081.6,77.5) scale(1.035,1)" font-family="'Liberation Sans', Arial, Helvetica, sans-serif" font-weight="bold" font-size="100">b</text></g><g fill="#000" stroke="#000" stroke-width="0.5"><text transform="translate(1288.60,132.30) scale(1.000,1.000)" font-family="'Liberation Serif', 'Times New Roman', serif" font-size="50" font-style="italic">y</text><text transform="translate(1328.46,136.10) scale(1.270,1.100)" font-family="'Liberation Serif', 'Times New Roman', serif" font-size="50" font-style="normal">=</text><text transform="translate(1380.24,132.30) scale(1.082,1.000)" font-family="'Liberation Serif', 'Times New Roman', serif" font-size="50" font-style="normal">0.00008915</text><text transform="translate(1641.20,132.30) scale(1.100,1.000)" font-family="'Liberation Serif', 'Times New Roman', serif" font-size="50" font-style="italic">x</text><text transform="translate(1678.92,140.30) scale(1.240,1.360)" font-family="'Liberation Serif', 'Times New Roman', serif" font-size="50" font-style="normal">+</text><text transform="translate(1726.48,132.30) scale(1.062,1.000)" font-family="'Liberation Serif', 'Times New Roman', serif" font-size="50" font-style="normal">2.127</text><text transform="translate(1285.30,198.80) scale(0.880,1.000)" font-family="'Liberation Serif', 'Times New Roman', serif" font-size="50" font-style="italic">R</text><text transform="translate(1316.20,183.30) scale(1.000,1.000)" font-family="'Liberation Serif', 'Times New Roman', serif" font-size="32" font-style="normal">2</text><text transform="translate(1348.66,202.30) scale(1.270,1.100)" font-family="'Liberation Serif', 'Times New Roman', serif" font-size="50" font-style="normal">=</text><text transform="translate(1398.93,198.80) scale(1.083,1.000)" font-family="'Liberation Serif', 'Times New Roman', serif" font-size="50" font-style="normal">0.9201</text></g></svg>
</body></html>
